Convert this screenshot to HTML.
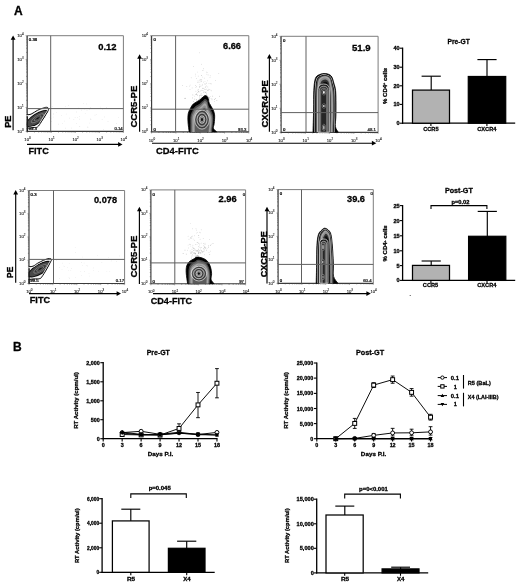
<!DOCTYPE html>
<html lang="en"><head><meta charset="utf-8"><title>Figure</title>
<style>html,body{margin:0;padding:0;background:#fff}svg{display:block}text{font-family:'Liberation Sans', sans-serif}</style>
</head><body>
<svg width="520" height="585" viewBox="0 0 520 585">
<defs><filter id="bl" x="-20%" y="-20%" width="140%" height="140%"><feGaussianBlur stdDeviation="0.7"/></filter><filter id="soft" x="0" y="0" width="520" height="585" filterUnits="userSpaceOnUse"><feGaussianBlur stdDeviation="0.35"/></filter></defs>
<rect width="520" height="585" fill="#fff"/>
<g filter="url(#soft)">
<text x="13.90" y="14.90" font-size="12.0" text-anchor="start" font-weight="bold" fill="#000" stroke="#000" stroke-width="0.3" >A</text>
<text x="13.00" y="350.90" font-size="12.0" text-anchor="start" font-weight="bold" fill="#000" stroke="#000" stroke-width="0.3" >B</text>
<path d="M27.20 35.70 H123.40 V131.40" fill="none" stroke="#7d7d7d" stroke-width="1.0"/>
<path d="M27.20 35.70 V131.40 H123.40" fill="none" stroke="#3a3a3a" stroke-width="1.15"/>
<text x="23.60" y="132.60" font-size="4.2" text-anchor="end" fill="#1a1a1a" stroke="#1a1a1a" stroke-width="0.1" font-weight="normal">10<tspan dy="-1.8" font-size="3.0">0</tspan></text>
<text x="27.50" y="141.10" font-size="4.2" text-anchor="middle" fill="#1a1a1a" stroke="#1a1a1a" stroke-width="0.1" font-weight="normal">10<tspan dy="-1.8" font-size="3.0">0</tspan></text>
<text x="23.60" y="108.68" font-size="4.2" text-anchor="end" fill="#1a1a1a" stroke="#1a1a1a" stroke-width="0.1" font-weight="normal">10<tspan dy="-1.8" font-size="3.0">1</tspan></text>
<text x="51.55" y="141.10" font-size="4.2" text-anchor="middle" fill="#1a1a1a" stroke="#1a1a1a" stroke-width="0.1" font-weight="normal">10<tspan dy="-1.8" font-size="3.0">1</tspan></text>
<text x="23.60" y="84.75" font-size="4.2" text-anchor="end" fill="#1a1a1a" stroke="#1a1a1a" stroke-width="0.1" font-weight="normal">10<tspan dy="-1.8" font-size="3.0">2</tspan></text>
<text x="75.60" y="141.10" font-size="4.2" text-anchor="middle" fill="#1a1a1a" stroke="#1a1a1a" stroke-width="0.1" font-weight="normal">10<tspan dy="-1.8" font-size="3.0">2</tspan></text>
<text x="23.60" y="60.83" font-size="4.2" text-anchor="end" fill="#1a1a1a" stroke="#1a1a1a" stroke-width="0.1" font-weight="normal">10<tspan dy="-1.8" font-size="3.0">3</tspan></text>
<text x="99.65" y="141.10" font-size="4.2" text-anchor="middle" fill="#1a1a1a" stroke="#1a1a1a" stroke-width="0.1" font-weight="normal">10<tspan dy="-1.8" font-size="3.0">3</tspan></text>
<text x="23.60" y="36.90" font-size="4.2" text-anchor="end" fill="#1a1a1a" stroke="#1a1a1a" stroke-width="0.1" font-weight="normal">10<tspan dy="-1.8" font-size="3.0">4</tspan></text>
<text x="123.70" y="141.10" font-size="4.2" text-anchor="middle" fill="#1a1a1a" stroke="#1a1a1a" stroke-width="0.1" font-weight="normal">10<tspan dy="-1.8" font-size="3.0">4</tspan></text>
<line x1="26.10" y1="124.20" x2="27.20" y2="124.20" stroke="#444" stroke-width="0.5" />
<line x1="34.44" y1="131.40" x2="34.44" y2="132.50" stroke="#444" stroke-width="0.5" />
<line x1="26.10" y1="119.98" x2="27.20" y2="119.98" stroke="#444" stroke-width="0.5" />
<line x1="38.67" y1="131.40" x2="38.67" y2="132.50" stroke="#444" stroke-width="0.5" />
<line x1="26.10" y1="117.00" x2="27.20" y2="117.00" stroke="#444" stroke-width="0.5" />
<line x1="41.68" y1="131.40" x2="41.68" y2="132.50" stroke="#444" stroke-width="0.5" />
<line x1="26.10" y1="114.68" x2="27.20" y2="114.68" stroke="#444" stroke-width="0.5" />
<line x1="44.01" y1="131.40" x2="44.01" y2="132.50" stroke="#444" stroke-width="0.5" />
<line x1="26.10" y1="112.78" x2="27.20" y2="112.78" stroke="#444" stroke-width="0.5" />
<line x1="45.91" y1="131.40" x2="45.91" y2="132.50" stroke="#444" stroke-width="0.5" />
<line x1="26.10" y1="111.18" x2="27.20" y2="111.18" stroke="#444" stroke-width="0.5" />
<line x1="47.52" y1="131.40" x2="47.52" y2="132.50" stroke="#444" stroke-width="0.5" />
<line x1="26.10" y1="109.79" x2="27.20" y2="109.79" stroke="#444" stroke-width="0.5" />
<line x1="48.92" y1="131.40" x2="48.92" y2="132.50" stroke="#444" stroke-width="0.5" />
<line x1="26.10" y1="108.57" x2="27.20" y2="108.57" stroke="#444" stroke-width="0.5" />
<line x1="50.15" y1="131.40" x2="50.15" y2="132.50" stroke="#444" stroke-width="0.5" />
<line x1="26.10" y1="100.27" x2="27.20" y2="100.27" stroke="#444" stroke-width="0.5" />
<line x1="58.49" y1="131.40" x2="58.49" y2="132.50" stroke="#444" stroke-width="0.5" />
<line x1="26.10" y1="96.06" x2="27.20" y2="96.06" stroke="#444" stroke-width="0.5" />
<line x1="62.72" y1="131.40" x2="62.72" y2="132.50" stroke="#444" stroke-width="0.5" />
<line x1="26.10" y1="93.07" x2="27.20" y2="93.07" stroke="#444" stroke-width="0.5" />
<line x1="65.73" y1="131.40" x2="65.73" y2="132.50" stroke="#444" stroke-width="0.5" />
<line x1="26.10" y1="90.75" x2="27.20" y2="90.75" stroke="#444" stroke-width="0.5" />
<line x1="68.06" y1="131.40" x2="68.06" y2="132.50" stroke="#444" stroke-width="0.5" />
<line x1="26.10" y1="88.86" x2="27.20" y2="88.86" stroke="#444" stroke-width="0.5" />
<line x1="69.96" y1="131.40" x2="69.96" y2="132.50" stroke="#444" stroke-width="0.5" />
<line x1="26.10" y1="87.26" x2="27.20" y2="87.26" stroke="#444" stroke-width="0.5" />
<line x1="71.57" y1="131.40" x2="71.57" y2="132.50" stroke="#444" stroke-width="0.5" />
<line x1="26.10" y1="85.87" x2="27.20" y2="85.87" stroke="#444" stroke-width="0.5" />
<line x1="72.97" y1="131.40" x2="72.97" y2="132.50" stroke="#444" stroke-width="0.5" />
<line x1="26.10" y1="84.64" x2="27.20" y2="84.64" stroke="#444" stroke-width="0.5" />
<line x1="74.20" y1="131.40" x2="74.20" y2="132.50" stroke="#444" stroke-width="0.5" />
<line x1="26.10" y1="76.35" x2="27.20" y2="76.35" stroke="#444" stroke-width="0.5" />
<line x1="82.54" y1="131.40" x2="82.54" y2="132.50" stroke="#444" stroke-width="0.5" />
<line x1="26.10" y1="72.13" x2="27.20" y2="72.13" stroke="#444" stroke-width="0.5" />
<line x1="86.77" y1="131.40" x2="86.77" y2="132.50" stroke="#444" stroke-width="0.5" />
<line x1="26.10" y1="69.15" x2="27.20" y2="69.15" stroke="#444" stroke-width="0.5" />
<line x1="89.78" y1="131.40" x2="89.78" y2="132.50" stroke="#444" stroke-width="0.5" />
<line x1="26.10" y1="66.83" x2="27.20" y2="66.83" stroke="#444" stroke-width="0.5" />
<line x1="92.11" y1="131.40" x2="92.11" y2="132.50" stroke="#444" stroke-width="0.5" />
<line x1="26.10" y1="64.93" x2="27.20" y2="64.93" stroke="#444" stroke-width="0.5" />
<line x1="94.01" y1="131.40" x2="94.01" y2="132.50" stroke="#444" stroke-width="0.5" />
<line x1="26.10" y1="63.33" x2="27.20" y2="63.33" stroke="#444" stroke-width="0.5" />
<line x1="95.62" y1="131.40" x2="95.62" y2="132.50" stroke="#444" stroke-width="0.5" />
<line x1="26.10" y1="61.94" x2="27.20" y2="61.94" stroke="#444" stroke-width="0.5" />
<line x1="97.02" y1="131.40" x2="97.02" y2="132.50" stroke="#444" stroke-width="0.5" />
<line x1="26.10" y1="60.72" x2="27.20" y2="60.72" stroke="#444" stroke-width="0.5" />
<line x1="98.25" y1="131.40" x2="98.25" y2="132.50" stroke="#444" stroke-width="0.5" />
<line x1="26.10" y1="52.42" x2="27.20" y2="52.42" stroke="#444" stroke-width="0.5" />
<line x1="106.59" y1="131.40" x2="106.59" y2="132.50" stroke="#444" stroke-width="0.5" />
<line x1="26.10" y1="48.21" x2="27.20" y2="48.21" stroke="#444" stroke-width="0.5" />
<line x1="110.82" y1="131.40" x2="110.82" y2="132.50" stroke="#444" stroke-width="0.5" />
<line x1="26.10" y1="45.22" x2="27.20" y2="45.22" stroke="#444" stroke-width="0.5" />
<line x1="113.83" y1="131.40" x2="113.83" y2="132.50" stroke="#444" stroke-width="0.5" />
<line x1="26.10" y1="42.90" x2="27.20" y2="42.90" stroke="#444" stroke-width="0.5" />
<line x1="116.16" y1="131.40" x2="116.16" y2="132.50" stroke="#444" stroke-width="0.5" />
<line x1="26.10" y1="41.01" x2="27.20" y2="41.01" stroke="#444" stroke-width="0.5" />
<line x1="118.06" y1="131.40" x2="118.06" y2="132.50" stroke="#444" stroke-width="0.5" />
<line x1="26.10" y1="39.41" x2="27.20" y2="39.41" stroke="#444" stroke-width="0.5" />
<line x1="119.67" y1="131.40" x2="119.67" y2="132.50" stroke="#444" stroke-width="0.5" />
<line x1="26.10" y1="38.02" x2="27.20" y2="38.02" stroke="#444" stroke-width="0.5" />
<line x1="121.07" y1="131.40" x2="121.07" y2="132.50" stroke="#444" stroke-width="0.5" />
<line x1="26.10" y1="36.79" x2="27.20" y2="36.79" stroke="#444" stroke-width="0.5" />
<line x1="122.30" y1="131.40" x2="122.30" y2="132.50" stroke="#444" stroke-width="0.5" />
<line x1="25.60" y1="131.40" x2="27.20" y2="131.40" stroke="#555" stroke-width="0.5" />
<line x1="27.20" y1="131.40" x2="27.20" y2="133.00" stroke="#555" stroke-width="0.5" />
<line x1="25.60" y1="107.48" x2="27.20" y2="107.48" stroke="#555" stroke-width="0.5" />
<line x1="51.25" y1="131.40" x2="51.25" y2="133.00" stroke="#555" stroke-width="0.5" />
<line x1="25.60" y1="83.55" x2="27.20" y2="83.55" stroke="#555" stroke-width="0.5" />
<line x1="75.30" y1="131.40" x2="75.30" y2="133.00" stroke="#555" stroke-width="0.5" />
<line x1="25.60" y1="59.62" x2="27.20" y2="59.62" stroke="#555" stroke-width="0.5" />
<line x1="99.35" y1="131.40" x2="99.35" y2="133.00" stroke="#555" stroke-width="0.5" />
<line x1="25.60" y1="35.70" x2="27.20" y2="35.70" stroke="#555" stroke-width="0.5" />
<line x1="123.40" y1="131.40" x2="123.40" y2="133.00" stroke="#555" stroke-width="0.5" />
<line x1="13.10" y1="37.90" x2="13.10" y2="130.20" stroke="#000" stroke-width="1.15" />
<path d="M13.10 35.40 L10.70 39.80 L15.50 39.80 Z" fill="#000"/>
<line x1="27.00" y1="144.40" x2="120.00" y2="144.40" stroke="#000" stroke-width="1.15" />
<path d="M122.50 144.40 L118.10 142.00 L118.10 146.80 Z" fill="#000"/>
<text x="11.50" y="127.80" font-size="9.8" text-anchor="start" font-weight="bold" fill="#000" textLength="12.20" lengthAdjust="spacingAndGlyphs" transform="rotate(-90 11.50 127.80)" stroke="#000" stroke-width="0.3" >PE</text>
<text x="28.50" y="153.50" font-size="9.9" text-anchor="start" font-weight="bold" fill="#000" textLength="20.30" lengthAdjust="spacingAndGlyphs" stroke="#000" stroke-width="0.3" >FITC</text>
<text x="98.20" y="49.80" font-size="9.7" text-anchor="start" font-weight="bold" fill="#000" textLength="18.30" lengthAdjust="spacingAndGlyphs" stroke="#000" stroke-width="0.3" >0.12</text>
<text x="28.80" y="41.20" font-size="4.3" text-anchor="start" font-weight="normal" fill="#000" stroke="#000" stroke-width="0.24">0.38</text>
<text x="28.60" y="130.20" font-size="4.3" text-anchor="start" font-weight="normal" fill="#000" stroke="#000" stroke-width="0.24">99.3</text>
<text x="114.40" y="130.00" font-size="4.3" text-anchor="start" font-weight="normal" fill="#111" stroke="#111" stroke-width="0.22">0.14</text>
<g fill="#c8c8c8"><circle cx="103.3" cy="129.6" r="0.32"/><circle cx="76.5" cy="111.9" r="0.32"/><circle cx="51.0" cy="118.3" r="0.32"/><circle cx="52.5" cy="106.5" r="0.32"/><circle cx="79.4" cy="119.1" r="0.32"/><circle cx="87.0" cy="110.7" r="0.32"/><circle cx="75.1" cy="117.5" r="0.32"/><circle cx="41.9" cy="122.3" r="0.32"/><circle cx="79.5" cy="116.8" r="0.32"/><circle cx="102.1" cy="119.6" r="0.32"/><circle cx="95.0" cy="115.1" r="0.32"/><circle cx="79.8" cy="126.2" r="0.32"/><circle cx="90.3" cy="119.0" r="0.32"/><circle cx="51.2" cy="121.6" r="0.32"/><circle cx="76.7" cy="123.8" r="0.32"/><circle cx="79.8" cy="126.7" r="0.32"/><circle cx="73.9" cy="119.6" r="0.32"/><circle cx="89.7" cy="109.3" r="0.32"/><circle cx="66.2" cy="114.0" r="0.32"/><circle cx="118.6" cy="117.3" r="0.32"/><circle cx="89.3" cy="123.0" r="0.32"/><circle cx="68.8" cy="105.6" r="0.32"/><circle cx="96.2" cy="114.7" r="0.32"/><circle cx="90.8" cy="107.6" r="0.32"/><circle cx="65.4" cy="128.1" r="0.32"/><circle cx="106.5" cy="107.6" r="0.32"/><circle cx="45.7" cy="117.6" r="0.32"/><circle cx="91.0" cy="119.3" r="0.32"/><circle cx="81.7" cy="110.1" r="0.32"/><circle cx="87.9" cy="126.9" r="0.32"/><circle cx="65.4" cy="106.5" r="0.32"/><circle cx="58.3" cy="124.1" r="0.32"/><circle cx="36.9" cy="117.3" r="0.32"/><circle cx="53.2" cy="117.0" r="0.32"/><circle cx="69.6" cy="118.1" r="0.32"/><circle cx="108.0" cy="121.4" r="0.32"/><circle cx="104.3" cy="116.9" r="0.32"/><circle cx="64.4" cy="121.0" r="0.32"/><circle cx="78.5" cy="108.1" r="0.32"/><circle cx="85.2" cy="113.5" r="0.32"/><circle cx="53.5" cy="113.8" r="0.32"/><circle cx="71.6" cy="128.0" r="0.32"/><circle cx="77.3" cy="117.8" r="0.32"/><circle cx="83.6" cy="103.5" r="0.32"/><circle cx="102.3" cy="109.4" r="0.32"/><circle cx="84.7" cy="109.0" r="0.32"/><circle cx="53.5" cy="114.8" r="0.32"/><circle cx="116.7" cy="123.6" r="0.32"/><circle cx="61.7" cy="115.7" r="0.32"/><circle cx="49.7" cy="117.7" r="0.32"/><circle cx="62.4" cy="123.8" r="0.32"/><circle cx="45.1" cy="115.3" r="0.32"/><circle cx="56.5" cy="112.3" r="0.32"/><circle cx="90.6" cy="119.0" r="0.32"/><circle cx="87.9" cy="127.5" r="0.32"/><circle cx="100.3" cy="107.0" r="0.32"/><circle cx="86.8" cy="103.9" r="0.32"/></g>
<clipPath id="ci1"><path d="M23.40 116.20 C24.67 114.02 28.65 115.18 31.00 114.20 C33.35 113.22 35.38 111.35 37.50 110.30 C39.62 109.25 42.18 108.40 43.70 107.90 C45.22 107.40 45.82 107.25 46.60 107.30 C47.38 107.35 48.13 107.65 48.40 108.20 C48.67 108.75 48.77 109.30 48.20 110.60 C47.63 111.90 46.15 114.13 45.00 116.00 C43.85 117.87 42.53 119.98 41.30 121.80 C40.07 123.62 38.98 125.95 37.60 126.90 C36.22 127.85 35.37 127.43 33.00 127.50 C30.63 127.57 25.00 129.18 23.40 127.30 C21.80 125.42 22.13 118.38 23.40 116.20 Z"/></clipPath>
<clipPath id="cx1"><rect x="26.80" y="91.40" width="40" height="42"/></clipPath>
<g clip-path="url(#cx1)"><g clip-path="url(#ci1)"><path d="M23.40 116.20 C24.67 114.02 28.65 115.18 31.00 114.20 C33.35 113.22 35.38 111.35 37.50 110.30 C39.62 109.25 42.18 108.40 43.70 107.90 C45.22 107.40 45.82 107.25 46.60 107.30 C47.38 107.35 48.13 107.65 48.40 108.20 C48.67 108.75 48.77 109.30 48.20 110.60 C47.63 111.90 46.15 114.13 45.00 116.00 C43.85 117.87 42.53 119.98 41.30 121.80 C40.07 123.62 38.98 125.95 37.60 126.90 C36.22 127.85 35.37 127.43 33.00 127.50 C30.63 127.57 25.00 129.18 23.40 127.30 C21.80 125.42 22.13 118.38 23.40 116.20 Z" fill="#f6f6f6"/><g transform="rotate(-33 37.6 118.3)"><ellipse cx="37.0" cy="118.3" rx="13.6" ry="5.3" fill="#0a0a0a"/><ellipse cx="37.0" cy="118.3" rx="12.2" ry="4.2" fill="#4a4a4a"/></g><path d="M23.40 116.20 C24.67 114.02 28.65 115.18 31.00 114.20 C33.35 113.22 35.38 111.35 37.50 110.30 C39.62 109.25 42.18 108.40 43.70 107.90 C45.22 107.40 45.82 107.25 46.60 107.30 C47.38 107.35 48.13 107.65 48.40 108.20 C48.67 108.75 48.77 109.30 48.20 110.60 C47.63 111.90 46.15 114.13 45.00 116.00 C43.85 117.87 42.53 119.98 41.30 121.80 C40.07 123.62 38.98 125.95 37.60 126.90 C36.22 127.85 35.37 127.43 33.00 127.50 C30.63 127.57 25.00 129.18 23.40 127.30 C21.80 125.42 22.13 118.38 23.40 116.20 Z" fill="none" stroke="#f6f6f6" stroke-width="2.3" stroke-linejoin="round"/></g><path d="M23.40 116.20 C24.67 114.02 28.65 115.18 31.00 114.20 C33.35 113.22 35.38 111.35 37.50 110.30 C39.62 109.25 42.18 108.40 43.70 107.90 C45.22 107.40 45.82 107.25 46.60 107.30 C47.38 107.35 48.13 107.65 48.40 108.20 C48.67 108.75 48.77 109.30 48.20 110.60 C47.63 111.90 46.15 114.13 45.00 116.00 C43.85 117.87 42.53 119.98 41.30 121.80 C40.07 123.62 38.98 125.95 37.60 126.90 C36.22 127.85 35.37 127.43 33.00 127.50 C30.63 127.57 25.00 129.18 23.40 127.30 C21.80 125.42 22.13 118.38 23.40 116.20 Z" fill="none" stroke="#000" stroke-width="0.95" stroke-linejoin="round"/><g transform="rotate(-33 37.6 118.3)" fill="none"><ellipse cx="37.6" cy="118.3" rx="7.4" ry="2.3" stroke="#c8c8c8" stroke-width="0.35"/><ellipse cx="37.6" cy="118.3" rx="5.6" ry="1.7" stroke="#1a1a1a" stroke-width="0.4"/><ellipse cx="37.6" cy="118.3" rx="4.2" ry="1.25" stroke="#b8b8b8" stroke-width="0.35"/><ellipse cx="37.6" cy="118.3" rx="2.8" ry="0.85" stroke="#222" stroke-width="0.4"/><ellipse cx="37.6" cy="118.3" rx="1.5" ry="0.5" fill="#000"/></g></g>
<rect x="26.70" y="116.20" width="1.3" height="15.20" fill="#1c1c1c"/>
<line x1="50.70" y1="35.70" x2="50.70" y2="131.40" stroke="#606060" stroke-width="1.0" />
<line x1="27.20" y1="108.60" x2="123.40" y2="108.60" stroke="#606060" stroke-width="1.0" />
<path d="M151.60 35.70 H248.80 V131.90" fill="none" stroke="#7d7d7d" stroke-width="1.0"/>
<path d="M151.60 35.70 V131.90 H248.80" fill="none" stroke="#3a3a3a" stroke-width="1.15"/>
<text x="148.00" y="133.10" font-size="4.2" text-anchor="end" fill="#1a1a1a" stroke="#1a1a1a" stroke-width="0.1" font-weight="normal">10<tspan dy="-1.8" font-size="3.0">0</tspan></text>
<text x="151.90" y="141.60" font-size="4.2" text-anchor="middle" fill="#1a1a1a" stroke="#1a1a1a" stroke-width="0.1" font-weight="normal">10<tspan dy="-1.8" font-size="3.0">0</tspan></text>
<text x="148.00" y="109.05" font-size="4.2" text-anchor="end" fill="#1a1a1a" stroke="#1a1a1a" stroke-width="0.1" font-weight="normal">10<tspan dy="-1.8" font-size="3.0">1</tspan></text>
<text x="176.20" y="141.60" font-size="4.2" text-anchor="middle" fill="#1a1a1a" stroke="#1a1a1a" stroke-width="0.1" font-weight="normal">10<tspan dy="-1.8" font-size="3.0">1</tspan></text>
<text x="148.00" y="85.00" font-size="4.2" text-anchor="end" fill="#1a1a1a" stroke="#1a1a1a" stroke-width="0.1" font-weight="normal">10<tspan dy="-1.8" font-size="3.0">2</tspan></text>
<text x="200.50" y="141.60" font-size="4.2" text-anchor="middle" fill="#1a1a1a" stroke="#1a1a1a" stroke-width="0.1" font-weight="normal">10<tspan dy="-1.8" font-size="3.0">2</tspan></text>
<text x="148.00" y="60.95" font-size="4.2" text-anchor="end" fill="#1a1a1a" stroke="#1a1a1a" stroke-width="0.1" font-weight="normal">10<tspan dy="-1.8" font-size="3.0">3</tspan></text>
<text x="224.80" y="141.60" font-size="4.2" text-anchor="middle" fill="#1a1a1a" stroke="#1a1a1a" stroke-width="0.1" font-weight="normal">10<tspan dy="-1.8" font-size="3.0">3</tspan></text>
<text x="148.00" y="36.90" font-size="4.2" text-anchor="end" fill="#1a1a1a" stroke="#1a1a1a" stroke-width="0.1" font-weight="normal">10<tspan dy="-1.8" font-size="3.0">4</tspan></text>
<text x="249.10" y="141.60" font-size="4.2" text-anchor="middle" fill="#1a1a1a" stroke="#1a1a1a" stroke-width="0.1" font-weight="normal">10<tspan dy="-1.8" font-size="3.0">4</tspan></text>
<line x1="150.50" y1="124.66" x2="151.60" y2="124.66" stroke="#444" stroke-width="0.5" />
<line x1="158.92" y1="131.90" x2="158.92" y2="133.00" stroke="#444" stroke-width="0.5" />
<line x1="150.50" y1="120.43" x2="151.60" y2="120.43" stroke="#444" stroke-width="0.5" />
<line x1="163.19" y1="131.90" x2="163.19" y2="133.00" stroke="#444" stroke-width="0.5" />
<line x1="150.50" y1="117.42" x2="151.60" y2="117.42" stroke="#444" stroke-width="0.5" />
<line x1="166.23" y1="131.90" x2="166.23" y2="133.00" stroke="#444" stroke-width="0.5" />
<line x1="150.50" y1="115.09" x2="151.60" y2="115.09" stroke="#444" stroke-width="0.5" />
<line x1="168.58" y1="131.90" x2="168.58" y2="133.00" stroke="#444" stroke-width="0.5" />
<line x1="150.50" y1="113.19" x2="151.60" y2="113.19" stroke="#444" stroke-width="0.5" />
<line x1="170.51" y1="131.90" x2="170.51" y2="133.00" stroke="#444" stroke-width="0.5" />
<line x1="150.50" y1="111.58" x2="151.60" y2="111.58" stroke="#444" stroke-width="0.5" />
<line x1="172.14" y1="131.90" x2="172.14" y2="133.00" stroke="#444" stroke-width="0.5" />
<line x1="150.50" y1="110.18" x2="151.60" y2="110.18" stroke="#444" stroke-width="0.5" />
<line x1="173.55" y1="131.90" x2="173.55" y2="133.00" stroke="#444" stroke-width="0.5" />
<line x1="150.50" y1="108.95" x2="151.60" y2="108.95" stroke="#444" stroke-width="0.5" />
<line x1="174.79" y1="131.90" x2="174.79" y2="133.00" stroke="#444" stroke-width="0.5" />
<line x1="150.50" y1="100.61" x2="151.60" y2="100.61" stroke="#444" stroke-width="0.5" />
<line x1="183.22" y1="131.90" x2="183.22" y2="133.00" stroke="#444" stroke-width="0.5" />
<line x1="150.50" y1="96.38" x2="151.60" y2="96.38" stroke="#444" stroke-width="0.5" />
<line x1="187.49" y1="131.90" x2="187.49" y2="133.00" stroke="#444" stroke-width="0.5" />
<line x1="150.50" y1="93.37" x2="151.60" y2="93.37" stroke="#444" stroke-width="0.5" />
<line x1="190.53" y1="131.90" x2="190.53" y2="133.00" stroke="#444" stroke-width="0.5" />
<line x1="150.50" y1="91.04" x2="151.60" y2="91.04" stroke="#444" stroke-width="0.5" />
<line x1="192.88" y1="131.90" x2="192.88" y2="133.00" stroke="#444" stroke-width="0.5" />
<line x1="150.50" y1="89.14" x2="151.60" y2="89.14" stroke="#444" stroke-width="0.5" />
<line x1="194.81" y1="131.90" x2="194.81" y2="133.00" stroke="#444" stroke-width="0.5" />
<line x1="150.50" y1="87.53" x2="151.60" y2="87.53" stroke="#444" stroke-width="0.5" />
<line x1="196.44" y1="131.90" x2="196.44" y2="133.00" stroke="#444" stroke-width="0.5" />
<line x1="150.50" y1="86.13" x2="151.60" y2="86.13" stroke="#444" stroke-width="0.5" />
<line x1="197.85" y1="131.90" x2="197.85" y2="133.00" stroke="#444" stroke-width="0.5" />
<line x1="150.50" y1="84.90" x2="151.60" y2="84.90" stroke="#444" stroke-width="0.5" />
<line x1="199.09" y1="131.90" x2="199.09" y2="133.00" stroke="#444" stroke-width="0.5" />
<line x1="150.50" y1="76.56" x2="151.60" y2="76.56" stroke="#444" stroke-width="0.5" />
<line x1="207.52" y1="131.90" x2="207.52" y2="133.00" stroke="#444" stroke-width="0.5" />
<line x1="150.50" y1="72.33" x2="151.60" y2="72.33" stroke="#444" stroke-width="0.5" />
<line x1="211.79" y1="131.90" x2="211.79" y2="133.00" stroke="#444" stroke-width="0.5" />
<line x1="150.50" y1="69.32" x2="151.60" y2="69.32" stroke="#444" stroke-width="0.5" />
<line x1="214.83" y1="131.90" x2="214.83" y2="133.00" stroke="#444" stroke-width="0.5" />
<line x1="150.50" y1="66.99" x2="151.60" y2="66.99" stroke="#444" stroke-width="0.5" />
<line x1="217.18" y1="131.90" x2="217.18" y2="133.00" stroke="#444" stroke-width="0.5" />
<line x1="150.50" y1="65.09" x2="151.60" y2="65.09" stroke="#444" stroke-width="0.5" />
<line x1="219.11" y1="131.90" x2="219.11" y2="133.00" stroke="#444" stroke-width="0.5" />
<line x1="150.50" y1="63.48" x2="151.60" y2="63.48" stroke="#444" stroke-width="0.5" />
<line x1="220.74" y1="131.90" x2="220.74" y2="133.00" stroke="#444" stroke-width="0.5" />
<line x1="150.50" y1="62.08" x2="151.60" y2="62.08" stroke="#444" stroke-width="0.5" />
<line x1="222.15" y1="131.90" x2="222.15" y2="133.00" stroke="#444" stroke-width="0.5" />
<line x1="150.50" y1="60.85" x2="151.60" y2="60.85" stroke="#444" stroke-width="0.5" />
<line x1="223.39" y1="131.90" x2="223.39" y2="133.00" stroke="#444" stroke-width="0.5" />
<line x1="150.50" y1="52.51" x2="151.60" y2="52.51" stroke="#444" stroke-width="0.5" />
<line x1="231.82" y1="131.90" x2="231.82" y2="133.00" stroke="#444" stroke-width="0.5" />
<line x1="150.50" y1="48.28" x2="151.60" y2="48.28" stroke="#444" stroke-width="0.5" />
<line x1="236.09" y1="131.90" x2="236.09" y2="133.00" stroke="#444" stroke-width="0.5" />
<line x1="150.50" y1="45.27" x2="151.60" y2="45.27" stroke="#444" stroke-width="0.5" />
<line x1="239.13" y1="131.90" x2="239.13" y2="133.00" stroke="#444" stroke-width="0.5" />
<line x1="150.50" y1="42.94" x2="151.60" y2="42.94" stroke="#444" stroke-width="0.5" />
<line x1="241.48" y1="131.90" x2="241.48" y2="133.00" stroke="#444" stroke-width="0.5" />
<line x1="150.50" y1="41.04" x2="151.60" y2="41.04" stroke="#444" stroke-width="0.5" />
<line x1="243.41" y1="131.90" x2="243.41" y2="133.00" stroke="#444" stroke-width="0.5" />
<line x1="150.50" y1="39.43" x2="151.60" y2="39.43" stroke="#444" stroke-width="0.5" />
<line x1="245.04" y1="131.90" x2="245.04" y2="133.00" stroke="#444" stroke-width="0.5" />
<line x1="150.50" y1="38.03" x2="151.60" y2="38.03" stroke="#444" stroke-width="0.5" />
<line x1="246.45" y1="131.90" x2="246.45" y2="133.00" stroke="#444" stroke-width="0.5" />
<line x1="150.50" y1="36.80" x2="151.60" y2="36.80" stroke="#444" stroke-width="0.5" />
<line x1="247.69" y1="131.90" x2="247.69" y2="133.00" stroke="#444" stroke-width="0.5" />
<line x1="150.00" y1="131.90" x2="151.60" y2="131.90" stroke="#555" stroke-width="0.5" />
<line x1="151.60" y1="131.90" x2="151.60" y2="133.50" stroke="#555" stroke-width="0.5" />
<line x1="150.00" y1="107.85" x2="151.60" y2="107.85" stroke="#555" stroke-width="0.5" />
<line x1="175.90" y1="131.90" x2="175.90" y2="133.50" stroke="#555" stroke-width="0.5" />
<line x1="150.00" y1="83.80" x2="151.60" y2="83.80" stroke="#555" stroke-width="0.5" />
<line x1="200.20" y1="131.90" x2="200.20" y2="133.50" stroke="#555" stroke-width="0.5" />
<line x1="150.00" y1="59.75" x2="151.60" y2="59.75" stroke="#555" stroke-width="0.5" />
<line x1="224.50" y1="131.90" x2="224.50" y2="133.50" stroke="#555" stroke-width="0.5" />
<line x1="150.00" y1="35.70" x2="151.60" y2="35.70" stroke="#555" stroke-width="0.5" />
<line x1="248.80" y1="131.90" x2="248.80" y2="133.50" stroke="#555" stroke-width="0.5" />
<line x1="139.60" y1="56.80" x2="139.60" y2="131.80" stroke="#000" stroke-width="1.15" />
<path d="M139.60 54.30 L137.20 58.70 L142.00 58.70 Z" fill="#000"/>
<line x1="152.00" y1="143.20" x2="373.80" y2="143.20" stroke="#000" stroke-width="1.15" />
<path d="M376.30 143.20 L371.90 140.80 L371.90 145.60 Z" fill="#000"/>
<text x="137.40" y="127.60" font-size="9.9" text-anchor="start" font-weight="bold" fill="#000" textLength="42.00" lengthAdjust="spacingAndGlyphs" transform="rotate(-90 137.40 127.60)" stroke="#000" stroke-width="0.3" >CCR5-PE</text>
<text x="156.10" y="153.80" font-size="9.9" text-anchor="start" font-weight="bold" fill="#000" textLength="42.60" lengthAdjust="spacingAndGlyphs" stroke="#000" stroke-width="0.3" >CD4-FITC</text>
<text x="223.00" y="49.30" font-size="9.7" text-anchor="start" font-weight="bold" fill="#000" textLength="18.00" lengthAdjust="spacingAndGlyphs" stroke="#000" stroke-width="0.3" >6.66</text>
<text x="153.40" y="40.90" font-size="4.3" text-anchor="start" font-weight="normal" fill="#000" stroke="#000" stroke-width="0.24">0</text>
<text x="153.40" y="130.60" font-size="4.3" text-anchor="start" font-weight="normal" fill="#000" stroke="#000" stroke-width="0.24">0</text>
<text x="238.00" y="130.50" font-size="4.3" text-anchor="start" font-weight="normal" fill="#111" stroke="#111" stroke-width="0.22">93.3</text>
<g fill="#b4b4b4"><circle cx="215.4" cy="80.7" r="0.36"/><circle cx="204.7" cy="89.6" r="0.36"/><circle cx="207.1" cy="72.6" r="0.36"/><circle cx="200.2" cy="79.7" r="0.36"/><circle cx="196.6" cy="78.7" r="0.36"/><circle cx="199.7" cy="84.8" r="0.36"/><circle cx="197.5" cy="92.6" r="0.36"/><circle cx="199.5" cy="52.8" r="0.36"/><circle cx="209.0" cy="83.7" r="0.36"/><circle cx="198.4" cy="91.0" r="0.36"/><circle cx="203.8" cy="88.6" r="0.36"/><circle cx="197.8" cy="90.1" r="0.36"/><circle cx="194.0" cy="103.9" r="0.36"/><circle cx="195.5" cy="85.7" r="0.36"/><circle cx="202.6" cy="90.4" r="0.36"/><circle cx="201.1" cy="93.3" r="0.36"/><circle cx="182.5" cy="85.4" r="0.36"/><circle cx="200.9" cy="81.8" r="0.36"/><circle cx="210.2" cy="75.8" r="0.36"/><circle cx="201.3" cy="64.2" r="0.36"/><circle cx="203.3" cy="68.6" r="0.36"/><circle cx="193.1" cy="112.6" r="0.36"/><circle cx="205.7" cy="86.5" r="0.36"/><circle cx="202.7" cy="70.6" r="0.36"/><circle cx="195.9" cy="91.2" r="0.36"/><circle cx="190.0" cy="89.6" r="0.36"/><circle cx="192.1" cy="87.9" r="0.36"/><circle cx="195.6" cy="106.1" r="0.36"/><circle cx="207.4" cy="80.8" r="0.36"/><circle cx="191.2" cy="77.8" r="0.36"/><circle cx="201.5" cy="75.5" r="0.36"/><circle cx="203.4" cy="97.6" r="0.36"/><circle cx="201.5" cy="81.7" r="0.36"/><circle cx="206.1" cy="83.2" r="0.36"/><circle cx="206.5" cy="83.0" r="0.36"/><circle cx="210.8" cy="83.4" r="0.36"/><circle cx="195.9" cy="87.6" r="0.36"/><circle cx="198.2" cy="76.1" r="0.36"/><circle cx="201.1" cy="94.9" r="0.36"/><circle cx="189.7" cy="86.1" r="0.36"/><circle cx="200.9" cy="85.0" r="0.36"/><circle cx="206.3" cy="72.0" r="0.36"/><circle cx="205.5" cy="84.1" r="0.36"/><circle cx="202.4" cy="84.2" r="0.36"/><circle cx="200.0" cy="80.8" r="0.36"/><circle cx="204.1" cy="110.2" r="0.36"/><circle cx="207.8" cy="96.3" r="0.36"/><circle cx="205.0" cy="81.5" r="0.36"/><circle cx="205.3" cy="110.0" r="0.36"/><circle cx="194.8" cy="96.1" r="0.36"/><circle cx="207.6" cy="90.1" r="0.36"/><circle cx="206.4" cy="102.5" r="0.36"/><circle cx="214.4" cy="101.6" r="0.36"/><circle cx="211.3" cy="90.8" r="0.36"/><circle cx="206.7" cy="89.1" r="0.36"/><circle cx="203.7" cy="82.1" r="0.36"/><circle cx="205.9" cy="103.4" r="0.36"/><circle cx="201.3" cy="90.2" r="0.36"/><circle cx="205.6" cy="87.6" r="0.36"/><circle cx="207.4" cy="90.3" r="0.36"/><circle cx="195.7" cy="76.0" r="0.36"/><circle cx="206.3" cy="94.5" r="0.36"/><circle cx="208.4" cy="90.3" r="0.36"/><circle cx="203.4" cy="70.0" r="0.36"/><circle cx="210.0" cy="77.3" r="0.36"/><circle cx="208.1" cy="74.9" r="0.36"/><circle cx="198.6" cy="89.3" r="0.36"/><circle cx="200.0" cy="79.9" r="0.36"/><circle cx="207.3" cy="95.2" r="0.36"/><circle cx="204.5" cy="83.9" r="0.36"/><circle cx="197.8" cy="82.4" r="0.36"/><circle cx="199.4" cy="87.4" r="0.36"/><circle cx="206.6" cy="85.9" r="0.36"/><circle cx="198.0" cy="80.9" r="0.36"/><circle cx="209.5" cy="89.6" r="0.36"/><circle cx="203.7" cy="90.9" r="0.36"/><circle cx="205.7" cy="89.4" r="0.36"/><circle cx="208.9" cy="96.8" r="0.36"/><circle cx="186.8" cy="86.4" r="0.36"/><circle cx="218.8" cy="73.7" r="0.36"/><circle cx="203.2" cy="99.9" r="0.36"/><circle cx="202.5" cy="102.7" r="0.36"/><circle cx="195.5" cy="74.1" r="0.36"/><circle cx="201.4" cy="79.8" r="0.36"/><circle cx="196.5" cy="94.3" r="0.36"/><circle cx="204.0" cy="88.1" r="0.36"/><circle cx="200.3" cy="90.9" r="0.36"/><circle cx="201.8" cy="79.9" r="0.36"/><circle cx="205.3" cy="92.1" r="0.36"/><circle cx="202.9" cy="95.6" r="0.36"/><circle cx="196.4" cy="86.4" r="0.36"/><circle cx="199.6" cy="102.7" r="0.36"/><circle cx="205.3" cy="111.3" r="0.36"/><circle cx="211.1" cy="83.9" r="0.36"/><circle cx="196.5" cy="93.3" r="0.36"/><circle cx="200.9" cy="86.3" r="0.36"/><circle cx="196.7" cy="94.6" r="0.36"/><circle cx="203.5" cy="92.4" r="0.36"/><circle cx="204.2" cy="78.1" r="0.36"/><circle cx="190.2" cy="85.0" r="0.36"/><circle cx="199.0" cy="82.2" r="0.36"/><circle cx="207.8" cy="86.9" r="0.36"/><circle cx="210.8" cy="90.0" r="0.36"/><circle cx="206.3" cy="93.6" r="0.36"/><circle cx="206.9" cy="74.2" r="0.36"/><circle cx="208.5" cy="89.2" r="0.36"/><circle cx="197.1" cy="94.8" r="0.36"/><circle cx="204.4" cy="102.2" r="0.36"/><circle cx="206.5" cy="92.0" r="0.36"/><circle cx="193.5" cy="106.4" r="0.36"/><circle cx="210.7" cy="96.5" r="0.36"/><circle cx="205.0" cy="101.4" r="0.36"/><circle cx="197.7" cy="95.7" r="0.36"/><circle cx="202.6" cy="77.0" r="0.36"/><circle cx="204.5" cy="91.9" r="0.36"/><circle cx="211.9" cy="98.4" r="0.36"/><circle cx="193.7" cy="66.4" r="0.36"/><circle cx="202.1" cy="85.7" r="0.36"/><circle cx="197.4" cy="72.0" r="0.36"/><circle cx="201.4" cy="75.3" r="0.36"/></g>
<g fill="#909090"><circle cx="192.4" cy="97.9" r="0.38"/><circle cx="200.6" cy="95.1" r="0.38"/><circle cx="209.3" cy="97.3" r="0.38"/><circle cx="200.6" cy="104.2" r="0.38"/><circle cx="199.0" cy="91.9" r="0.38"/><circle cx="192.9" cy="94.9" r="0.38"/><circle cx="207.1" cy="100.4" r="0.38"/><circle cx="210.5" cy="104.4" r="0.38"/><circle cx="214.6" cy="99.7" r="0.38"/><circle cx="212.0" cy="99.8" r="0.38"/><circle cx="198.8" cy="100.5" r="0.38"/><circle cx="203.2" cy="96.4" r="0.38"/><circle cx="216.9" cy="100.3" r="0.38"/><circle cx="199.4" cy="96.9" r="0.38"/><circle cx="219.4" cy="96.2" r="0.38"/><circle cx="208.1" cy="99.7" r="0.38"/><circle cx="206.5" cy="99.6" r="0.38"/><circle cx="199.5" cy="95.3" r="0.38"/><circle cx="201.8" cy="95.8" r="0.38"/><circle cx="208.6" cy="103.5" r="0.38"/><circle cx="196.6" cy="99.4" r="0.38"/><circle cx="195.9" cy="94.4" r="0.38"/><circle cx="201.2" cy="97.7" r="0.38"/><circle cx="199.8" cy="86.6" r="0.38"/><circle cx="212.7" cy="96.1" r="0.38"/><circle cx="198.4" cy="100.0" r="0.38"/><circle cx="198.7" cy="91.4" r="0.38"/><circle cx="206.4" cy="98.9" r="0.38"/><circle cx="197.0" cy="100.6" r="0.38"/><circle cx="205.5" cy="92.6" r="0.38"/><circle cx="215.3" cy="98.3" r="0.38"/><circle cx="194.8" cy="99.1" r="0.38"/><circle cx="203.8" cy="101.2" r="0.38"/><circle cx="193.3" cy="101.4" r="0.38"/><circle cx="209.6" cy="100.0" r="0.38"/><circle cx="207.2" cy="102.6" r="0.38"/><circle cx="208.0" cy="97.7" r="0.38"/><circle cx="196.9" cy="101.7" r="0.38"/><circle cx="209.9" cy="98.4" r="0.38"/><circle cx="204.0" cy="100.1" r="0.38"/><circle cx="185.0" cy="98.5" r="0.38"/><circle cx="185.1" cy="98.2" r="0.38"/><circle cx="210.4" cy="104.9" r="0.38"/><circle cx="199.5" cy="99.0" r="0.38"/><circle cx="202.4" cy="88.2" r="0.38"/></g>
<clipPath id="c2"><path d="M189.20 131.90 C189.00 130.25 188.17 125.02 188.00 122.00 C187.83 118.98 187.77 116.13 188.20 113.80 C188.63 111.47 189.72 109.67 190.60 108.00 C191.48 106.33 192.07 105.07 193.50 103.80 C194.93 102.53 197.53 101.60 199.20 100.40 C200.87 99.20 202.45 97.42 203.50 96.60 C204.55 95.78 204.77 95.35 205.50 95.50 C206.23 95.65 207.27 96.20 207.90 97.50 C208.53 98.80 208.50 101.38 209.30 103.30 C210.10 105.22 211.82 107.08 212.70 109.00 C213.58 110.92 214.35 112.38 214.60 114.80 C214.85 117.22 214.40 121.25 214.20 123.50 C214.00 125.75 213.00 126.90 213.40 128.30 C213.80 129.70 216.07 131.30 216.60 131.90 Z"/></clipPath>
<path d="M189.20 131.90 C189.00 130.25 188.17 125.02 188.00 122.00 C187.83 118.98 187.77 116.13 188.20 113.80 C188.63 111.47 189.72 109.67 190.60 108.00 C191.48 106.33 192.07 105.07 193.50 103.80 C194.93 102.53 197.53 101.60 199.20 100.40 C200.87 99.20 202.45 97.42 203.50 96.60 C204.55 95.78 204.77 95.35 205.50 95.50 C206.23 95.65 207.27 96.20 207.90 97.50 C208.53 98.80 208.50 101.38 209.30 103.30 C210.10 105.22 211.82 107.08 212.70 109.00 C213.58 110.92 214.35 112.38 214.60 114.80 C214.85 117.22 214.40 121.25 214.20 123.50 C214.00 125.75 213.00 126.90 213.40 128.30 C213.80 129.70 216.07 131.30 216.60 131.90 Z" fill="#000" stroke="#000" stroke-width="0.8" stroke-linejoin="round"/>
<g clip-path="url(#c2)"><g filter="url(#bl)"><path d="M190.35 131.90 C190.35 130.47 190.32 125.98 190.35 123.29 C190.38 120.60 190.15 117.89 190.52 115.75 C190.90 113.60 191.83 111.95 192.59 110.41 C193.35 108.88 193.85 107.71 195.08 106.55 C196.31 105.38 198.55 104.52 199.98 103.42 C201.42 102.32 202.78 100.68 203.68 99.92 C204.58 99.17 204.77 98.77 205.40 98.91 C206.03 99.05 206.92 99.56 207.47 100.75 C208.01 101.95 207.98 104.32 208.67 106.09 C209.36 107.85 210.83 109.57 211.59 111.33 C212.35 113.10 213.01 114.44 213.23 116.67 C213.44 118.89 213.06 122.60 212.88 124.67 C212.71 126.74 212.31 127.88 212.20 129.09 C212.08 130.29 212.20 131.43 212.20 131.90 Z" fill="#484848"/><path d="M191.50 131.90 C191.50 130.56 191.47 126.40 191.50 123.89 C191.52 121.38 191.31 118.84 191.65 116.83 C191.99 114.83 192.84 113.28 193.52 111.85 C194.21 110.41 194.67 109.32 195.79 108.23 C196.90 107.14 198.93 106.34 200.23 105.31 C201.53 104.28 202.77 102.74 203.59 102.04 C204.40 101.34 204.57 100.97 205.15 101.10 C205.72 101.23 206.52 101.70 207.02 102.82 C207.51 103.93 207.49 106.16 208.11 107.80 C208.73 109.45 210.07 111.06 210.76 112.71 C211.45 114.35 212.05 115.62 212.24 117.69 C212.44 119.77 212.09 123.24 211.93 125.18 C211.78 127.11 211.41 128.18 211.31 129.30 C211.20 130.42 211.31 131.47 211.31 131.90 Z" fill="#7c7c7c"/><path d="M192.64 131.90 C192.64 130.66 192.62 126.81 192.64 124.48 C192.66 122.15 192.48 119.79 192.78 117.92 C193.08 116.05 193.84 114.61 194.46 113.28 C195.08 111.95 195.49 110.93 196.49 109.92 C197.49 108.91 199.31 108.16 200.48 107.20 C201.65 106.24 202.75 104.81 203.49 104.16 C204.23 103.51 204.38 103.16 204.89 103.28 C205.40 103.40 206.13 103.84 206.57 104.88 C207.01 105.92 206.99 107.99 207.55 109.52 C208.11 111.05 209.31 112.55 209.93 114.08 C210.55 115.61 211.08 116.79 211.26 118.72 C211.44 120.65 211.12 123.88 210.98 125.68 C210.84 127.48 210.51 128.48 210.42 129.52 C210.33 130.56 210.42 131.50 210.42 131.90 Z" fill="#a8a8a8"/><path d="M193.78 131.90 C193.78 130.76 193.76 127.22 193.78 125.07 C193.80 122.92 193.64 120.73 193.91 119.01 C194.18 117.28 194.85 115.95 195.40 114.71 C195.94 113.48 196.31 112.54 197.19 111.61 C198.08 110.67 199.69 109.98 200.73 109.09 C201.76 108.20 202.74 106.88 203.39 106.28 C204.05 105.67 204.18 105.35 204.63 105.46 C205.09 105.58 205.73 105.98 206.12 106.94 C206.51 107.91 206.49 109.82 206.99 111.24 C207.49 112.65 208.55 114.04 209.10 115.45 C209.65 116.87 210.12 117.96 210.28 119.75 C210.43 121.53 210.15 124.52 210.03 126.18 C209.90 127.85 209.61 128.78 209.53 129.74 C209.45 130.69 209.53 131.54 209.53 131.90 Z" fill="#8e8e8e"/><path d="M194.93 131.90 C194.93 130.86 194.91 127.64 194.93 125.67 C194.95 123.70 194.80 121.68 195.04 120.09 C195.27 118.51 195.85 117.28 196.33 116.15 C196.81 115.01 197.12 114.15 197.90 113.29 C198.67 112.43 200.08 111.80 200.98 110.98 C201.88 110.16 202.73 108.95 203.30 108.40 C203.87 107.84 203.98 107.55 204.38 107.65 C204.77 107.75 205.33 108.12 205.67 109.01 C206.02 109.89 206.00 111.65 206.43 112.95 C206.86 114.26 207.79 115.52 208.27 116.83 C208.74 118.13 209.16 119.13 209.29 120.77 C209.43 122.42 209.18 125.16 209.08 126.69 C208.97 128.22 208.72 129.08 208.64 129.95 C208.57 130.82 208.64 131.58 208.64 131.90 Z" fill="#5c5c5c"/></g></g>
<g fill="none"><ellipse cx="202.0" cy="119.6" rx="7.31" ry="9.57" stroke="#f4f4f4" stroke-width="0.6"/><ellipse cx="202.0" cy="119.6" rx="6.15" ry="8.11" stroke="#1e1e1e" stroke-width="0.6"/><ellipse cx="202.0" cy="119.6" rx="4.98" ry="6.66" stroke="#f4f4f4" stroke-width="0.6"/><ellipse cx="202.0" cy="119.6" rx="3.82" ry="5.20" stroke="#1e1e1e" stroke-width="0.6"/><ellipse cx="202.0" cy="119.6" rx="2.65" ry="3.74" stroke="#f4f4f4" stroke-width="0.6"/><ellipse cx="202.0" cy="119.6" rx="1.48" ry="2.29" fill="#111" stroke="#eee" stroke-width="0.5"/></g>
<line x1="175.60" y1="35.70" x2="175.60" y2="131.90" stroke="#606060" stroke-width="1.0" />
<line x1="151.60" y1="109.20" x2="248.80" y2="109.20" stroke="#606060" stroke-width="1.0" />
<path d="M281.10 36.30 H378.10 V132.30" fill="none" stroke="#7d7d7d" stroke-width="1.0"/>
<path d="M281.10 36.30 V132.30 H378.10" fill="none" stroke="#3a3a3a" stroke-width="1.15"/>
<text x="277.50" y="133.50" font-size="4.2" text-anchor="end" fill="#1a1a1a" stroke="#1a1a1a" stroke-width="0.1" font-weight="normal">10<tspan dy="-1.8" font-size="3.0">0</tspan></text>
<text x="281.40" y="142.00" font-size="4.2" text-anchor="middle" fill="#1a1a1a" stroke="#1a1a1a" stroke-width="0.1" font-weight="normal">10<tspan dy="-1.8" font-size="3.0">0</tspan></text>
<text x="277.50" y="109.50" font-size="4.2" text-anchor="end" fill="#1a1a1a" stroke="#1a1a1a" stroke-width="0.1" font-weight="normal">10<tspan dy="-1.8" font-size="3.0">1</tspan></text>
<text x="305.65" y="142.00" font-size="4.2" text-anchor="middle" fill="#1a1a1a" stroke="#1a1a1a" stroke-width="0.1" font-weight="normal">10<tspan dy="-1.8" font-size="3.0">1</tspan></text>
<text x="277.50" y="85.50" font-size="4.2" text-anchor="end" fill="#1a1a1a" stroke="#1a1a1a" stroke-width="0.1" font-weight="normal">10<tspan dy="-1.8" font-size="3.0">2</tspan></text>
<text x="329.90" y="142.00" font-size="4.2" text-anchor="middle" fill="#1a1a1a" stroke="#1a1a1a" stroke-width="0.1" font-weight="normal">10<tspan dy="-1.8" font-size="3.0">2</tspan></text>
<text x="277.50" y="61.50" font-size="4.2" text-anchor="end" fill="#1a1a1a" stroke="#1a1a1a" stroke-width="0.1" font-weight="normal">10<tspan dy="-1.8" font-size="3.0">3</tspan></text>
<text x="354.15" y="142.00" font-size="4.2" text-anchor="middle" fill="#1a1a1a" stroke="#1a1a1a" stroke-width="0.1" font-weight="normal">10<tspan dy="-1.8" font-size="3.0">3</tspan></text>
<text x="277.50" y="37.50" font-size="4.2" text-anchor="end" fill="#1a1a1a" stroke="#1a1a1a" stroke-width="0.1" font-weight="normal">10<tspan dy="-1.8" font-size="3.0">4</tspan></text>
<text x="378.40" y="142.00" font-size="4.2" text-anchor="middle" fill="#1a1a1a" stroke="#1a1a1a" stroke-width="0.1" font-weight="normal">10<tspan dy="-1.8" font-size="3.0">4</tspan></text>
<line x1="280.00" y1="125.08" x2="281.10" y2="125.08" stroke="#444" stroke-width="0.5" />
<line x1="288.40" y1="132.30" x2="288.40" y2="133.40" stroke="#444" stroke-width="0.5" />
<line x1="280.00" y1="120.85" x2="281.10" y2="120.85" stroke="#444" stroke-width="0.5" />
<line x1="292.67" y1="132.30" x2="292.67" y2="133.40" stroke="#444" stroke-width="0.5" />
<line x1="280.00" y1="117.85" x2="281.10" y2="117.85" stroke="#444" stroke-width="0.5" />
<line x1="295.70" y1="132.30" x2="295.70" y2="133.40" stroke="#444" stroke-width="0.5" />
<line x1="280.00" y1="115.52" x2="281.10" y2="115.52" stroke="#444" stroke-width="0.5" />
<line x1="298.05" y1="132.30" x2="298.05" y2="133.40" stroke="#444" stroke-width="0.5" />
<line x1="280.00" y1="113.62" x2="281.10" y2="113.62" stroke="#444" stroke-width="0.5" />
<line x1="299.97" y1="132.30" x2="299.97" y2="133.40" stroke="#444" stroke-width="0.5" />
<line x1="280.00" y1="112.02" x2="281.10" y2="112.02" stroke="#444" stroke-width="0.5" />
<line x1="301.59" y1="132.30" x2="301.59" y2="133.40" stroke="#444" stroke-width="0.5" />
<line x1="280.00" y1="110.63" x2="281.10" y2="110.63" stroke="#444" stroke-width="0.5" />
<line x1="303.00" y1="132.30" x2="303.00" y2="133.40" stroke="#444" stroke-width="0.5" />
<line x1="280.00" y1="109.40" x2="281.10" y2="109.40" stroke="#444" stroke-width="0.5" />
<line x1="304.24" y1="132.30" x2="304.24" y2="133.40" stroke="#444" stroke-width="0.5" />
<line x1="280.00" y1="101.08" x2="281.10" y2="101.08" stroke="#444" stroke-width="0.5" />
<line x1="312.65" y1="132.30" x2="312.65" y2="133.40" stroke="#444" stroke-width="0.5" />
<line x1="280.00" y1="96.85" x2="281.10" y2="96.85" stroke="#444" stroke-width="0.5" />
<line x1="316.92" y1="132.30" x2="316.92" y2="133.40" stroke="#444" stroke-width="0.5" />
<line x1="280.00" y1="93.85" x2="281.10" y2="93.85" stroke="#444" stroke-width="0.5" />
<line x1="319.95" y1="132.30" x2="319.95" y2="133.40" stroke="#444" stroke-width="0.5" />
<line x1="280.00" y1="91.52" x2="281.10" y2="91.52" stroke="#444" stroke-width="0.5" />
<line x1="322.30" y1="132.30" x2="322.30" y2="133.40" stroke="#444" stroke-width="0.5" />
<line x1="280.00" y1="89.62" x2="281.10" y2="89.62" stroke="#444" stroke-width="0.5" />
<line x1="324.22" y1="132.30" x2="324.22" y2="133.40" stroke="#444" stroke-width="0.5" />
<line x1="280.00" y1="88.02" x2="281.10" y2="88.02" stroke="#444" stroke-width="0.5" />
<line x1="325.84" y1="132.30" x2="325.84" y2="133.40" stroke="#444" stroke-width="0.5" />
<line x1="280.00" y1="86.63" x2="281.10" y2="86.63" stroke="#444" stroke-width="0.5" />
<line x1="327.25" y1="132.30" x2="327.25" y2="133.40" stroke="#444" stroke-width="0.5" />
<line x1="280.00" y1="85.40" x2="281.10" y2="85.40" stroke="#444" stroke-width="0.5" />
<line x1="328.49" y1="132.30" x2="328.49" y2="133.40" stroke="#444" stroke-width="0.5" />
<line x1="280.00" y1="77.08" x2="281.10" y2="77.08" stroke="#444" stroke-width="0.5" />
<line x1="336.90" y1="132.30" x2="336.90" y2="133.40" stroke="#444" stroke-width="0.5" />
<line x1="280.00" y1="72.85" x2="281.10" y2="72.85" stroke="#444" stroke-width="0.5" />
<line x1="341.17" y1="132.30" x2="341.17" y2="133.40" stroke="#444" stroke-width="0.5" />
<line x1="280.00" y1="69.85" x2="281.10" y2="69.85" stroke="#444" stroke-width="0.5" />
<line x1="344.20" y1="132.30" x2="344.20" y2="133.40" stroke="#444" stroke-width="0.5" />
<line x1="280.00" y1="67.52" x2="281.10" y2="67.52" stroke="#444" stroke-width="0.5" />
<line x1="346.55" y1="132.30" x2="346.55" y2="133.40" stroke="#444" stroke-width="0.5" />
<line x1="280.00" y1="65.62" x2="281.10" y2="65.62" stroke="#444" stroke-width="0.5" />
<line x1="348.47" y1="132.30" x2="348.47" y2="133.40" stroke="#444" stroke-width="0.5" />
<line x1="280.00" y1="64.02" x2="281.10" y2="64.02" stroke="#444" stroke-width="0.5" />
<line x1="350.09" y1="132.30" x2="350.09" y2="133.40" stroke="#444" stroke-width="0.5" />
<line x1="280.00" y1="62.63" x2="281.10" y2="62.63" stroke="#444" stroke-width="0.5" />
<line x1="351.50" y1="132.30" x2="351.50" y2="133.40" stroke="#444" stroke-width="0.5" />
<line x1="280.00" y1="61.40" x2="281.10" y2="61.40" stroke="#444" stroke-width="0.5" />
<line x1="352.74" y1="132.30" x2="352.74" y2="133.40" stroke="#444" stroke-width="0.5" />
<line x1="280.00" y1="53.08" x2="281.10" y2="53.08" stroke="#444" stroke-width="0.5" />
<line x1="361.15" y1="132.30" x2="361.15" y2="133.40" stroke="#444" stroke-width="0.5" />
<line x1="280.00" y1="48.85" x2="281.10" y2="48.85" stroke="#444" stroke-width="0.5" />
<line x1="365.42" y1="132.30" x2="365.42" y2="133.40" stroke="#444" stroke-width="0.5" />
<line x1="280.00" y1="45.85" x2="281.10" y2="45.85" stroke="#444" stroke-width="0.5" />
<line x1="368.45" y1="132.30" x2="368.45" y2="133.40" stroke="#444" stroke-width="0.5" />
<line x1="280.00" y1="43.52" x2="281.10" y2="43.52" stroke="#444" stroke-width="0.5" />
<line x1="370.80" y1="132.30" x2="370.80" y2="133.40" stroke="#444" stroke-width="0.5" />
<line x1="280.00" y1="41.62" x2="281.10" y2="41.62" stroke="#444" stroke-width="0.5" />
<line x1="372.72" y1="132.30" x2="372.72" y2="133.40" stroke="#444" stroke-width="0.5" />
<line x1="280.00" y1="40.02" x2="281.10" y2="40.02" stroke="#444" stroke-width="0.5" />
<line x1="374.34" y1="132.30" x2="374.34" y2="133.40" stroke="#444" stroke-width="0.5" />
<line x1="280.00" y1="38.63" x2="281.10" y2="38.63" stroke="#444" stroke-width="0.5" />
<line x1="375.75" y1="132.30" x2="375.75" y2="133.40" stroke="#444" stroke-width="0.5" />
<line x1="280.00" y1="37.40" x2="281.10" y2="37.40" stroke="#444" stroke-width="0.5" />
<line x1="376.99" y1="132.30" x2="376.99" y2="133.40" stroke="#444" stroke-width="0.5" />
<line x1="279.50" y1="132.30" x2="281.10" y2="132.30" stroke="#555" stroke-width="0.5" />
<line x1="281.10" y1="132.30" x2="281.10" y2="133.90" stroke="#555" stroke-width="0.5" />
<line x1="279.50" y1="108.30" x2="281.10" y2="108.30" stroke="#555" stroke-width="0.5" />
<line x1="305.35" y1="132.30" x2="305.35" y2="133.90" stroke="#555" stroke-width="0.5" />
<line x1="279.50" y1="84.30" x2="281.10" y2="84.30" stroke="#555" stroke-width="0.5" />
<line x1="329.60" y1="132.30" x2="329.60" y2="133.90" stroke="#555" stroke-width="0.5" />
<line x1="279.50" y1="60.30" x2="281.10" y2="60.30" stroke="#555" stroke-width="0.5" />
<line x1="353.85" y1="132.30" x2="353.85" y2="133.90" stroke="#555" stroke-width="0.5" />
<line x1="279.50" y1="36.30" x2="281.10" y2="36.30" stroke="#555" stroke-width="0.5" />
<line x1="378.10" y1="132.30" x2="378.10" y2="133.90" stroke="#555" stroke-width="0.5" />
<line x1="269.40" y1="56.50" x2="269.40" y2="131.80" stroke="#000" stroke-width="1.15" />
<path d="M269.40 54.00 L267.00 58.40 L271.80 58.40 Z" fill="#000"/>
<text x="267.90" y="127.60" font-size="9.9" text-anchor="start" font-weight="bold" fill="#000" textLength="47.40" lengthAdjust="spacingAndGlyphs" transform="rotate(-90 267.90 127.60)" stroke="#000" stroke-width="0.3" >CXCR4-PE</text>
<text x="352.00" y="50.70" font-size="9.7" text-anchor="start" font-weight="bold" fill="#000" textLength="18.60" lengthAdjust="spacingAndGlyphs" stroke="#000" stroke-width="0.3" >51.9</text>
<text x="282.90" y="41.60" font-size="4.3" text-anchor="start" font-weight="normal" fill="#000" stroke="#000" stroke-width="0.24">0</text>
<text x="282.90" y="131.00" font-size="4.3" text-anchor="start" font-weight="normal" fill="#000" stroke="#000" stroke-width="0.24">0</text>
<text x="367.60" y="130.90" font-size="4.3" text-anchor="start" font-weight="normal" fill="#111" stroke="#111" stroke-width="0.22">48.1</text>
<clipPath id="c3"><path d="M313.00 132.20 C313.10 128.50 313.47 116.93 313.60 110.00 C313.73 103.07 313.50 95.87 313.80 90.60 C314.10 85.33 314.43 81.07 315.40 78.40 C316.37 75.73 317.90 75.40 319.60 74.60 C321.30 73.80 323.67 73.37 325.60 73.60 C327.53 73.83 329.83 74.43 331.20 76.00 C332.57 77.57 333.07 80.57 333.80 83.00 C334.53 85.43 335.23 87.10 335.60 90.60 C335.97 94.10 335.95 99.72 336.00 104.00 C336.05 108.28 336.00 112.55 335.90 116.30 C335.80 120.05 335.02 123.85 335.40 126.50 C335.78 129.15 337.73 131.25 338.20 132.20 Z"/></clipPath>
<path d="M313.00 132.20 C313.10 128.50 313.47 116.93 313.60 110.00 C313.73 103.07 313.50 95.87 313.80 90.60 C314.10 85.33 314.43 81.07 315.40 78.40 C316.37 75.73 317.90 75.40 319.60 74.60 C321.30 73.80 323.67 73.37 325.60 73.60 C327.53 73.83 329.83 74.43 331.20 76.00 C332.57 77.57 333.07 80.57 333.80 83.00 C334.53 85.43 335.23 87.10 335.60 90.60 C335.97 94.10 335.95 99.72 336.00 104.00 C336.05 108.28 336.00 112.55 335.90 116.30 C335.80 120.05 335.02 123.85 335.40 126.50 C335.78 129.15 337.73 131.25 338.20 132.20 Z" fill="#000" stroke="#000" stroke-width="0.8" stroke-linejoin="round"/>
<path d="M314.50 132.20 C314.50 128.55 314.47 117.15 314.50 110.31 C314.53 103.47 314.41 96.38 314.69 91.18 C314.96 85.99 315.27 81.78 316.16 79.15 C317.06 76.52 318.48 76.20 320.05 75.41 C321.62 74.62 323.81 74.19 325.60 74.42 C327.39 74.65 329.52 75.24 330.78 76.79 C332.04 78.33 332.51 81.29 333.19 83.69 C333.86 86.09 334.51 87.73 334.85 91.18 C335.19 94.63 335.17 100.17 335.22 104.39 C335.27 108.62 335.22 112.83 335.13 116.52 C335.03 120.22 334.74 123.97 334.66 126.58 C334.59 129.19 334.66 131.26 334.66 132.20 Z" fill="#e6e6e6"/>
<path d="M315.10 132.20 C315.10 128.58 315.07 117.27 315.10 110.49 C315.13 103.71 315.01 96.67 315.28 91.52 C315.54 86.36 315.83 82.19 316.67 79.58 C317.52 76.98 318.86 76.65 320.35 75.87 C321.84 75.08 323.91 74.66 325.60 74.89 C327.29 75.12 329.30 75.70 330.50 77.24 C331.70 78.77 332.13 81.70 332.78 84.08 C333.42 86.46 334.03 88.09 334.35 91.52 C334.67 94.94 334.66 100.43 334.70 104.62 C334.74 108.81 334.70 112.98 334.61 116.65 C334.52 120.32 334.25 124.03 334.17 126.63 C334.10 129.22 334.17 131.27 334.17 132.20 Z" fill="#111"/>
<g clip-path="url(#c3)"><g filter="url(#bl)"><path d="M316.00 132.20 C316.00 128.62 315.97 117.42 316.00 110.71 C316.03 104.00 315.92 97.03 316.16 91.93 C316.40 86.83 316.67 82.70 317.44 80.12 C318.21 77.54 319.44 77.22 320.80 76.44 C322.16 75.67 324.05 75.25 325.60 75.48 C327.15 75.70 328.99 76.28 330.08 77.80 C331.17 79.31 331.57 82.22 332.16 84.57 C332.75 86.93 333.31 88.54 333.60 91.93 C333.89 95.32 333.88 100.76 333.92 104.90 C333.96 109.05 333.92 113.18 333.84 116.81 C333.76 120.44 333.51 124.12 333.44 126.68 C333.37 129.25 333.44 131.28 333.44 132.20 Z" fill="#5c5c5c"/><path d="M317.20 132.20 C317.20 128.67 317.18 117.62 317.20 111.00 C317.22 104.38 317.13 97.50 317.34 92.47 C317.55 87.44 317.78 83.37 318.46 80.82 C319.14 78.27 320.21 77.96 321.40 77.19 C322.59 76.43 324.25 76.01 325.60 76.24 C326.95 76.46 328.56 77.03 329.52 78.53 C330.48 80.03 330.83 82.89 331.34 85.21 C331.85 87.54 332.34 89.13 332.60 92.47 C332.86 95.81 332.85 101.18 332.88 105.27 C332.91 109.36 332.88 113.43 332.81 117.02 C332.74 120.60 332.52 124.23 332.46 126.76 C332.40 129.29 332.46 131.29 332.46 132.20 Z" fill="#ababab"/><path d="M318.40 132.20 C318.40 128.74 318.38 117.93 318.40 111.44 C318.42 104.96 318.34 98.23 318.52 93.30 C318.70 88.38 318.90 84.39 319.48 81.90 C320.06 79.40 320.98 79.09 322.00 78.34 C323.02 77.60 324.44 77.19 325.60 77.41 C326.76 77.63 328.14 78.19 328.96 79.65 C329.78 81.12 330.08 83.92 330.52 86.20 C330.96 88.47 331.38 90.03 331.60 93.30 C331.82 96.58 331.81 101.83 331.84 105.83 C331.87 109.84 331.84 113.83 331.78 117.33 C331.72 120.84 331.53 124.39 331.48 126.87 C331.43 129.35 331.48 131.31 331.48 132.20 Z" fill="#8e8e8e"/><path d="M319.60 132.20 C319.60 128.87 319.58 118.46 319.60 112.22 C319.62 105.98 319.55 99.50 319.70 94.76 C319.85 90.02 320.02 86.18 320.50 83.78 C320.98 81.38 321.75 81.08 322.60 80.36 C323.45 79.64 324.63 79.25 325.60 79.46 C326.57 79.67 327.72 80.21 328.40 81.62 C329.08 83.03 329.33 85.73 329.70 87.92 C330.07 90.11 330.42 91.61 330.60 94.76 C330.78 97.91 330.78 102.96 330.80 106.82 C330.82 110.67 330.80 114.52 330.75 117.89 C330.70 121.27 330.54 124.69 330.50 127.07 C330.46 129.45 330.50 131.34 330.50 132.20 Z" fill="#333"/><path d="M320.80 132.20 C320.80 129.02 320.79 119.07 320.80 113.11 C320.81 107.15 320.76 100.95 320.88 96.42 C321.00 91.89 321.13 88.23 321.52 85.93 C321.91 83.64 322.52 83.35 323.20 82.66 C323.88 81.98 324.83 81.60 325.60 81.80 C326.37 82.00 327.29 82.52 327.84 83.87 C328.39 85.22 328.59 87.80 328.88 89.89 C329.17 91.98 329.45 93.41 329.60 96.42 C329.75 99.43 329.74 104.26 329.76 107.95 C329.78 111.63 329.76 115.30 329.72 118.53 C329.68 121.75 329.55 125.02 329.52 127.30 C329.49 129.58 329.52 131.38 329.52 132.20 Z" fill="#0a0a0a"/></g></g>
<path d="M318.00 132.20 V89.70 Q318.00 84.00 323.70 84.00 Q329.40 84.00 329.40 89.70 V132.20 Z" fill="#1e1e1e" stroke="#f4f4f4" stroke-width="0.7"/>
<path d="M319.40 132.20 V90.54 Q319.40 86.24 323.70 86.24 Q328.00 86.24 328.00 90.54 V132.20 Z" fill="#3c3c3c" stroke="#e6e6e6" stroke-width="0.55"/>
<path d="M320.70 132.20 V91.32 Q320.70 88.32 323.70 88.32 Q326.70 88.32 326.70 91.32 V132.20 Z" fill="#262626" stroke="#d0d0d0" stroke-width="0.45"/>
<ellipse cx="323.9" cy="92.2" rx="1.8" ry="2.9" fill="#1a1a1a" stroke="#ddd" stroke-width="0.35"/>
<ellipse cx="323.9" cy="92.2" rx="0.8" ry="1.7" fill="#fff"/>
<ellipse cx="323.9" cy="106" rx="1.75" ry="2.3" fill="#1a1a1a" stroke="#ddd" stroke-width="0.35"/>
<ellipse cx="323.9" cy="106" rx="0.75" ry="1.1" fill="#fff"/>
<ellipse cx="323.9" cy="127.5" rx="1.55" ry="3.4000000000000004" fill="#1a1a1a" stroke="#ddd" stroke-width="0.35"/>
<ellipse cx="323.9" cy="127.5" rx="0.55" ry="2.2" fill="#fff"/>
<line x1="306.00" y1="36.30" x2="306.00" y2="132.30" stroke="#606060" stroke-width="1.0" />
<line x1="281.10" y1="112.60" x2="378.10" y2="112.60" stroke="#606060" stroke-width="1.0" />
<path d="M29.00 190.50 H124.60 V283.50" fill="none" stroke="#7d7d7d" stroke-width="1.0"/>
<path d="M29.00 190.50 V283.50 H124.60" fill="none" stroke="#3a3a3a" stroke-width="1.15"/>
<text x="25.40" y="284.70" font-size="4.2" text-anchor="end" fill="#1a1a1a" stroke="#1a1a1a" stroke-width="0.1" font-weight="normal">10<tspan dy="-1.8" font-size="3.0">0</tspan></text>
<text x="29.30" y="293.20" font-size="4.2" text-anchor="middle" fill="#1a1a1a" stroke="#1a1a1a" stroke-width="0.1" font-weight="normal">10<tspan dy="-1.8" font-size="3.0">0</tspan></text>
<text x="25.40" y="261.45" font-size="4.2" text-anchor="end" fill="#1a1a1a" stroke="#1a1a1a" stroke-width="0.1" font-weight="normal">10<tspan dy="-1.8" font-size="3.0">1</tspan></text>
<text x="53.20" y="293.20" font-size="4.2" text-anchor="middle" fill="#1a1a1a" stroke="#1a1a1a" stroke-width="0.1" font-weight="normal">10<tspan dy="-1.8" font-size="3.0">1</tspan></text>
<text x="25.40" y="238.20" font-size="4.2" text-anchor="end" fill="#1a1a1a" stroke="#1a1a1a" stroke-width="0.1" font-weight="normal">10<tspan dy="-1.8" font-size="3.0">2</tspan></text>
<text x="77.10" y="293.20" font-size="4.2" text-anchor="middle" fill="#1a1a1a" stroke="#1a1a1a" stroke-width="0.1" font-weight="normal">10<tspan dy="-1.8" font-size="3.0">2</tspan></text>
<text x="25.40" y="214.95" font-size="4.2" text-anchor="end" fill="#1a1a1a" stroke="#1a1a1a" stroke-width="0.1" font-weight="normal">10<tspan dy="-1.8" font-size="3.0">3</tspan></text>
<text x="101.00" y="293.20" font-size="4.2" text-anchor="middle" fill="#1a1a1a" stroke="#1a1a1a" stroke-width="0.1" font-weight="normal">10<tspan dy="-1.8" font-size="3.0">3</tspan></text>
<text x="25.40" y="191.70" font-size="4.2" text-anchor="end" fill="#1a1a1a" stroke="#1a1a1a" stroke-width="0.1" font-weight="normal">10<tspan dy="-1.8" font-size="3.0">4</tspan></text>
<text x="124.90" y="293.20" font-size="4.2" text-anchor="middle" fill="#1a1a1a" stroke="#1a1a1a" stroke-width="0.1" font-weight="normal">10<tspan dy="-1.8" font-size="3.0">4</tspan></text>
<line x1="27.90" y1="276.50" x2="29.00" y2="276.50" stroke="#444" stroke-width="0.5" />
<line x1="36.19" y1="283.50" x2="36.19" y2="284.60" stroke="#444" stroke-width="0.5" />
<line x1="27.90" y1="272.41" x2="29.00" y2="272.41" stroke="#444" stroke-width="0.5" />
<line x1="40.40" y1="283.50" x2="40.40" y2="284.60" stroke="#444" stroke-width="0.5" />
<line x1="27.90" y1="269.50" x2="29.00" y2="269.50" stroke="#444" stroke-width="0.5" />
<line x1="43.39" y1="283.50" x2="43.39" y2="284.60" stroke="#444" stroke-width="0.5" />
<line x1="27.90" y1="267.25" x2="29.00" y2="267.25" stroke="#444" stroke-width="0.5" />
<line x1="45.71" y1="283.50" x2="45.71" y2="284.60" stroke="#444" stroke-width="0.5" />
<line x1="27.90" y1="265.41" x2="29.00" y2="265.41" stroke="#444" stroke-width="0.5" />
<line x1="47.60" y1="283.50" x2="47.60" y2="284.60" stroke="#444" stroke-width="0.5" />
<line x1="27.90" y1="263.85" x2="29.00" y2="263.85" stroke="#444" stroke-width="0.5" />
<line x1="49.20" y1="283.50" x2="49.20" y2="284.60" stroke="#444" stroke-width="0.5" />
<line x1="27.90" y1="262.50" x2="29.00" y2="262.50" stroke="#444" stroke-width="0.5" />
<line x1="50.58" y1="283.50" x2="50.58" y2="284.60" stroke="#444" stroke-width="0.5" />
<line x1="27.90" y1="261.31" x2="29.00" y2="261.31" stroke="#444" stroke-width="0.5" />
<line x1="51.81" y1="283.50" x2="51.81" y2="284.60" stroke="#444" stroke-width="0.5" />
<line x1="27.90" y1="253.25" x2="29.00" y2="253.25" stroke="#444" stroke-width="0.5" />
<line x1="60.09" y1="283.50" x2="60.09" y2="284.60" stroke="#444" stroke-width="0.5" />
<line x1="27.90" y1="249.16" x2="29.00" y2="249.16" stroke="#444" stroke-width="0.5" />
<line x1="64.30" y1="283.50" x2="64.30" y2="284.60" stroke="#444" stroke-width="0.5" />
<line x1="27.90" y1="246.25" x2="29.00" y2="246.25" stroke="#444" stroke-width="0.5" />
<line x1="67.29" y1="283.50" x2="67.29" y2="284.60" stroke="#444" stroke-width="0.5" />
<line x1="27.90" y1="244.00" x2="29.00" y2="244.00" stroke="#444" stroke-width="0.5" />
<line x1="69.61" y1="283.50" x2="69.61" y2="284.60" stroke="#444" stroke-width="0.5" />
<line x1="27.90" y1="242.16" x2="29.00" y2="242.16" stroke="#444" stroke-width="0.5" />
<line x1="71.50" y1="283.50" x2="71.50" y2="284.60" stroke="#444" stroke-width="0.5" />
<line x1="27.90" y1="240.60" x2="29.00" y2="240.60" stroke="#444" stroke-width="0.5" />
<line x1="73.10" y1="283.50" x2="73.10" y2="284.60" stroke="#444" stroke-width="0.5" />
<line x1="27.90" y1="239.25" x2="29.00" y2="239.25" stroke="#444" stroke-width="0.5" />
<line x1="74.48" y1="283.50" x2="74.48" y2="284.60" stroke="#444" stroke-width="0.5" />
<line x1="27.90" y1="238.06" x2="29.00" y2="238.06" stroke="#444" stroke-width="0.5" />
<line x1="75.71" y1="283.50" x2="75.71" y2="284.60" stroke="#444" stroke-width="0.5" />
<line x1="27.90" y1="230.00" x2="29.00" y2="230.00" stroke="#444" stroke-width="0.5" />
<line x1="83.99" y1="283.50" x2="83.99" y2="284.60" stroke="#444" stroke-width="0.5" />
<line x1="27.90" y1="225.91" x2="29.00" y2="225.91" stroke="#444" stroke-width="0.5" />
<line x1="88.20" y1="283.50" x2="88.20" y2="284.60" stroke="#444" stroke-width="0.5" />
<line x1="27.90" y1="223.00" x2="29.00" y2="223.00" stroke="#444" stroke-width="0.5" />
<line x1="91.19" y1="283.50" x2="91.19" y2="284.60" stroke="#444" stroke-width="0.5" />
<line x1="27.90" y1="220.75" x2="29.00" y2="220.75" stroke="#444" stroke-width="0.5" />
<line x1="93.51" y1="283.50" x2="93.51" y2="284.60" stroke="#444" stroke-width="0.5" />
<line x1="27.90" y1="218.91" x2="29.00" y2="218.91" stroke="#444" stroke-width="0.5" />
<line x1="95.40" y1="283.50" x2="95.40" y2="284.60" stroke="#444" stroke-width="0.5" />
<line x1="27.90" y1="217.35" x2="29.00" y2="217.35" stroke="#444" stroke-width="0.5" />
<line x1="97.00" y1="283.50" x2="97.00" y2="284.60" stroke="#444" stroke-width="0.5" />
<line x1="27.90" y1="216.00" x2="29.00" y2="216.00" stroke="#444" stroke-width="0.5" />
<line x1="98.38" y1="283.50" x2="98.38" y2="284.60" stroke="#444" stroke-width="0.5" />
<line x1="27.90" y1="214.81" x2="29.00" y2="214.81" stroke="#444" stroke-width="0.5" />
<line x1="99.61" y1="283.50" x2="99.61" y2="284.60" stroke="#444" stroke-width="0.5" />
<line x1="27.90" y1="206.75" x2="29.00" y2="206.75" stroke="#444" stroke-width="0.5" />
<line x1="107.89" y1="283.50" x2="107.89" y2="284.60" stroke="#444" stroke-width="0.5" />
<line x1="27.90" y1="202.66" x2="29.00" y2="202.66" stroke="#444" stroke-width="0.5" />
<line x1="112.10" y1="283.50" x2="112.10" y2="284.60" stroke="#444" stroke-width="0.5" />
<line x1="27.90" y1="199.75" x2="29.00" y2="199.75" stroke="#444" stroke-width="0.5" />
<line x1="115.09" y1="283.50" x2="115.09" y2="284.60" stroke="#444" stroke-width="0.5" />
<line x1="27.90" y1="197.50" x2="29.00" y2="197.50" stroke="#444" stroke-width="0.5" />
<line x1="117.41" y1="283.50" x2="117.41" y2="284.60" stroke="#444" stroke-width="0.5" />
<line x1="27.90" y1="195.66" x2="29.00" y2="195.66" stroke="#444" stroke-width="0.5" />
<line x1="119.30" y1="283.50" x2="119.30" y2="284.60" stroke="#444" stroke-width="0.5" />
<line x1="27.90" y1="194.10" x2="29.00" y2="194.10" stroke="#444" stroke-width="0.5" />
<line x1="120.90" y1="283.50" x2="120.90" y2="284.60" stroke="#444" stroke-width="0.5" />
<line x1="27.90" y1="192.75" x2="29.00" y2="192.75" stroke="#444" stroke-width="0.5" />
<line x1="122.28" y1="283.50" x2="122.28" y2="284.60" stroke="#444" stroke-width="0.5" />
<line x1="27.90" y1="191.56" x2="29.00" y2="191.56" stroke="#444" stroke-width="0.5" />
<line x1="123.51" y1="283.50" x2="123.51" y2="284.60" stroke="#444" stroke-width="0.5" />
<line x1="27.40" y1="283.50" x2="29.00" y2="283.50" stroke="#555" stroke-width="0.5" />
<line x1="29.00" y1="283.50" x2="29.00" y2="285.10" stroke="#555" stroke-width="0.5" />
<line x1="27.40" y1="260.25" x2="29.00" y2="260.25" stroke="#555" stroke-width="0.5" />
<line x1="52.90" y1="283.50" x2="52.90" y2="285.10" stroke="#555" stroke-width="0.5" />
<line x1="27.40" y1="237.00" x2="29.00" y2="237.00" stroke="#555" stroke-width="0.5" />
<line x1="76.80" y1="283.50" x2="76.80" y2="285.10" stroke="#555" stroke-width="0.5" />
<line x1="27.40" y1="213.75" x2="29.00" y2="213.75" stroke="#555" stroke-width="0.5" />
<line x1="100.70" y1="283.50" x2="100.70" y2="285.10" stroke="#555" stroke-width="0.5" />
<line x1="27.40" y1="190.50" x2="29.00" y2="190.50" stroke="#555" stroke-width="0.5" />
<line x1="124.60" y1="283.50" x2="124.60" y2="285.10" stroke="#555" stroke-width="0.5" />
<line x1="15.70" y1="192.50" x2="15.70" y2="282.80" stroke="#000" stroke-width="1.15" />
<path d="M15.70 190.00 L13.30 194.40 L18.10 194.40 Z" fill="#000"/>
<line x1="29.00" y1="293.60" x2="118.50" y2="293.60" stroke="#000" stroke-width="1.15" />
<path d="M121.00 293.60 L116.60 291.20 L116.60 296.00 Z" fill="#000"/>
<text x="12.90" y="277.90" font-size="9.8" text-anchor="start" font-weight="bold" fill="#000" textLength="11.20" lengthAdjust="spacingAndGlyphs" transform="rotate(-90 12.90 277.90)" stroke="#000" stroke-width="0.3" >PE</text>
<text x="29.80" y="303.30" font-size="9.9" text-anchor="start" font-weight="bold" fill="#000" textLength="20.30" lengthAdjust="spacingAndGlyphs" stroke="#000" stroke-width="0.3" >FITC</text>
<text x="94.00" y="203.20" font-size="9.7" text-anchor="start" font-weight="bold" fill="#000" textLength="23.00" lengthAdjust="spacingAndGlyphs" stroke="#000" stroke-width="0.3" >0.078</text>
<text x="30.60" y="196.20" font-size="4.3" text-anchor="start" font-weight="normal" fill="#000" stroke="#000" stroke-width="0.24">0.3</text>
<text x="30.20" y="282.40" font-size="4.3" text-anchor="start" font-weight="normal" fill="#000" stroke="#000" stroke-width="0.24">99.5</text>
<text x="115.70" y="282.20" font-size="4.3" text-anchor="start" font-weight="normal" fill="#111" stroke="#111" stroke-width="0.22">0.17</text>
<g fill="#d0d0d0"><circle cx="80.8" cy="271.7" r="0.32"/><circle cx="70.8" cy="270.8" r="0.32"/><circle cx="98.5" cy="271.3" r="0.32"/><circle cx="111.2" cy="260.9" r="0.32"/><circle cx="81.3" cy="262.4" r="0.32"/><circle cx="64.3" cy="266.5" r="0.32"/><circle cx="84.4" cy="271.4" r="0.32"/><circle cx="97.3" cy="255.2" r="0.32"/><circle cx="84.1" cy="263.0" r="0.32"/><circle cx="69.7" cy="278.4" r="0.32"/><circle cx="75.5" cy="252.4" r="0.32"/><circle cx="86.2" cy="265.7" r="0.32"/><circle cx="56.5" cy="260.6" r="0.32"/><circle cx="67.5" cy="267.8" r="0.32"/><circle cx="71.5" cy="268.6" r="0.32"/><circle cx="116.7" cy="261.6" r="0.32"/><circle cx="63.9" cy="266.0" r="0.32"/><circle cx="101.9" cy="262.4" r="0.32"/><circle cx="108.7" cy="257.5" r="0.32"/><circle cx="59.4" cy="267.6" r="0.32"/><circle cx="62.7" cy="263.1" r="0.32"/><circle cx="89.0" cy="273.8" r="0.32"/><circle cx="82.3" cy="265.8" r="0.32"/><circle cx="106.9" cy="271.2" r="0.32"/><circle cx="75.3" cy="277.7" r="0.32"/><circle cx="62.0" cy="269.3" r="0.32"/><circle cx="93.2" cy="267.9" r="0.32"/><circle cx="68.5" cy="270.8" r="0.32"/><circle cx="69.2" cy="263.2" r="0.32"/><circle cx="59.5" cy="278.4" r="0.32"/><circle cx="69.0" cy="277.2" r="0.32"/><circle cx="87.6" cy="265.9" r="0.32"/><circle cx="93.4" cy="270.2" r="0.32"/><circle cx="82.6" cy="257.0" r="0.32"/><circle cx="81.4" cy="275.2" r="0.32"/><circle cx="89.7" cy="276.0" r="0.32"/><circle cx="109.8" cy="271.3" r="0.32"/><circle cx="119.5" cy="255.9" r="0.32"/><circle cx="75.2" cy="247.8" r="0.32"/></g>
<clipPath id="ci4"><path d="M25.20 268.20 C26.50 266.12 30.95 267.02 33.00 266.20 C35.05 265.38 35.72 264.30 37.50 263.30 C39.28 262.30 41.95 260.97 43.70 260.20 C45.45 259.43 46.85 258.97 48.00 258.70 C49.15 258.43 50.02 258.40 50.60 258.60 C51.18 258.80 51.53 259.30 51.50 259.90 C51.47 260.50 51.28 260.52 50.40 262.20 C49.52 263.88 47.62 267.57 46.20 270.00 C44.78 272.43 42.97 275.37 41.90 276.80 C40.83 278.23 41.12 278.25 39.80 278.60 C38.48 278.95 36.43 278.88 34.00 278.90 C31.57 278.92 26.67 280.48 25.20 278.70 C23.73 276.92 23.90 270.28 25.20 268.20 Z"/></clipPath>
<clipPath id="cx4"><rect x="28.60" y="243.50" width="40" height="42"/></clipPath>
<g clip-path="url(#cx4)"><g clip-path="url(#ci4)"><path d="M25.20 268.20 C26.50 266.12 30.95 267.02 33.00 266.20 C35.05 265.38 35.72 264.30 37.50 263.30 C39.28 262.30 41.95 260.97 43.70 260.20 C45.45 259.43 46.85 258.97 48.00 258.70 C49.15 258.43 50.02 258.40 50.60 258.60 C51.18 258.80 51.53 259.30 51.50 259.90 C51.47 260.50 51.28 260.52 50.40 262.20 C49.52 263.88 47.62 267.57 46.20 270.00 C44.78 272.43 42.97 275.37 41.90 276.80 C40.83 278.23 41.12 278.25 39.80 278.60 C38.48 278.95 36.43 278.88 34.00 278.90 C31.57 278.92 26.67 280.48 25.20 278.70 C23.73 276.92 23.90 270.28 25.20 268.20 Z" fill="#f6f6f6"/><g transform="rotate(-31 40.2 268.9)"><ellipse cx="39.6" cy="268.9" rx="13.6" ry="5.3" fill="#0a0a0a"/><ellipse cx="39.6" cy="268.9" rx="12.2" ry="4.2" fill="#4a4a4a"/></g><path d="M25.20 268.20 C26.50 266.12 30.95 267.02 33.00 266.20 C35.05 265.38 35.72 264.30 37.50 263.30 C39.28 262.30 41.95 260.97 43.70 260.20 C45.45 259.43 46.85 258.97 48.00 258.70 C49.15 258.43 50.02 258.40 50.60 258.60 C51.18 258.80 51.53 259.30 51.50 259.90 C51.47 260.50 51.28 260.52 50.40 262.20 C49.52 263.88 47.62 267.57 46.20 270.00 C44.78 272.43 42.97 275.37 41.90 276.80 C40.83 278.23 41.12 278.25 39.80 278.60 C38.48 278.95 36.43 278.88 34.00 278.90 C31.57 278.92 26.67 280.48 25.20 278.70 C23.73 276.92 23.90 270.28 25.20 268.20 Z" fill="none" stroke="#f6f6f6" stroke-width="2.3" stroke-linejoin="round"/></g><path d="M25.20 268.20 C26.50 266.12 30.95 267.02 33.00 266.20 C35.05 265.38 35.72 264.30 37.50 263.30 C39.28 262.30 41.95 260.97 43.70 260.20 C45.45 259.43 46.85 258.97 48.00 258.70 C49.15 258.43 50.02 258.40 50.60 258.60 C51.18 258.80 51.53 259.30 51.50 259.90 C51.47 260.50 51.28 260.52 50.40 262.20 C49.52 263.88 47.62 267.57 46.20 270.00 C44.78 272.43 42.97 275.37 41.90 276.80 C40.83 278.23 41.12 278.25 39.80 278.60 C38.48 278.95 36.43 278.88 34.00 278.90 C31.57 278.92 26.67 280.48 25.20 278.70 C23.73 276.92 23.90 270.28 25.20 268.20 Z" fill="none" stroke="#000" stroke-width="0.95" stroke-linejoin="round"/><g transform="rotate(-31 40.2 268.9)" fill="none"><ellipse cx="40.2" cy="268.9" rx="7.4" ry="2.3" stroke="#c8c8c8" stroke-width="0.35"/><ellipse cx="40.2" cy="268.9" rx="5.6" ry="1.7" stroke="#1a1a1a" stroke-width="0.4"/><ellipse cx="40.2" cy="268.9" rx="4.2" ry="1.25" stroke="#b8b8b8" stroke-width="0.35"/><ellipse cx="40.2" cy="268.9" rx="2.8" ry="0.85" stroke="#222" stroke-width="0.4"/><ellipse cx="40.2" cy="268.9" rx="1.5" ry="0.5" fill="#000"/></g></g>
<rect x="28.50" y="268.20" width="1.3" height="15.30" fill="#1c1c1c"/>
<line x1="53.50" y1="190.50" x2="53.50" y2="283.50" stroke="#606060" stroke-width="1.0" />
<line x1="29.00" y1="259.40" x2="124.60" y2="259.40" stroke="#606060" stroke-width="1.0" />
<path d="M150.90 189.90 H245.60 V283.70" fill="none" stroke="#7d7d7d" stroke-width="1.0"/>
<path d="M150.90 189.90 V283.70 H245.60" fill="none" stroke="#3a3a3a" stroke-width="1.15"/>
<text x="147.30" y="284.90" font-size="4.2" text-anchor="end" fill="#1a1a1a" stroke="#1a1a1a" stroke-width="0.1" font-weight="normal">10<tspan dy="-1.8" font-size="3.0">0</tspan></text>
<text x="151.20" y="293.40" font-size="4.2" text-anchor="middle" fill="#1a1a1a" stroke="#1a1a1a" stroke-width="0.1" font-weight="normal">10<tspan dy="-1.8" font-size="3.0">0</tspan></text>
<text x="147.30" y="261.45" font-size="4.2" text-anchor="end" fill="#1a1a1a" stroke="#1a1a1a" stroke-width="0.1" font-weight="normal">10<tspan dy="-1.8" font-size="3.0">1</tspan></text>
<text x="174.88" y="293.40" font-size="4.2" text-anchor="middle" fill="#1a1a1a" stroke="#1a1a1a" stroke-width="0.1" font-weight="normal">10<tspan dy="-1.8" font-size="3.0">1</tspan></text>
<text x="147.30" y="238.00" font-size="4.2" text-anchor="end" fill="#1a1a1a" stroke="#1a1a1a" stroke-width="0.1" font-weight="normal">10<tspan dy="-1.8" font-size="3.0">2</tspan></text>
<text x="198.55" y="293.40" font-size="4.2" text-anchor="middle" fill="#1a1a1a" stroke="#1a1a1a" stroke-width="0.1" font-weight="normal">10<tspan dy="-1.8" font-size="3.0">2</tspan></text>
<text x="147.30" y="214.55" font-size="4.2" text-anchor="end" fill="#1a1a1a" stroke="#1a1a1a" stroke-width="0.1" font-weight="normal">10<tspan dy="-1.8" font-size="3.0">3</tspan></text>
<text x="222.23" y="293.40" font-size="4.2" text-anchor="middle" fill="#1a1a1a" stroke="#1a1a1a" stroke-width="0.1" font-weight="normal">10<tspan dy="-1.8" font-size="3.0">3</tspan></text>
<text x="147.30" y="191.10" font-size="4.2" text-anchor="end" fill="#1a1a1a" stroke="#1a1a1a" stroke-width="0.1" font-weight="normal">10<tspan dy="-1.8" font-size="3.0">4</tspan></text>
<text x="245.90" y="293.40" font-size="4.2" text-anchor="middle" fill="#1a1a1a" stroke="#1a1a1a" stroke-width="0.1" font-weight="normal">10<tspan dy="-1.8" font-size="3.0">4</tspan></text>
<line x1="149.80" y1="276.64" x2="150.90" y2="276.64" stroke="#444" stroke-width="0.5" />
<line x1="158.03" y1="283.70" x2="158.03" y2="284.80" stroke="#444" stroke-width="0.5" />
<line x1="149.80" y1="272.51" x2="150.90" y2="272.51" stroke="#444" stroke-width="0.5" />
<line x1="162.20" y1="283.70" x2="162.20" y2="284.80" stroke="#444" stroke-width="0.5" />
<line x1="149.80" y1="269.58" x2="150.90" y2="269.58" stroke="#444" stroke-width="0.5" />
<line x1="165.15" y1="283.70" x2="165.15" y2="284.80" stroke="#444" stroke-width="0.5" />
<line x1="149.80" y1="267.31" x2="150.90" y2="267.31" stroke="#444" stroke-width="0.5" />
<line x1="167.45" y1="283.70" x2="167.45" y2="284.80" stroke="#444" stroke-width="0.5" />
<line x1="149.80" y1="265.45" x2="150.90" y2="265.45" stroke="#444" stroke-width="0.5" />
<line x1="169.32" y1="283.70" x2="169.32" y2="284.80" stroke="#444" stroke-width="0.5" />
<line x1="149.80" y1="263.88" x2="150.90" y2="263.88" stroke="#444" stroke-width="0.5" />
<line x1="170.91" y1="283.70" x2="170.91" y2="284.80" stroke="#444" stroke-width="0.5" />
<line x1="149.80" y1="262.52" x2="150.90" y2="262.52" stroke="#444" stroke-width="0.5" />
<line x1="172.28" y1="283.70" x2="172.28" y2="284.80" stroke="#444" stroke-width="0.5" />
<line x1="149.80" y1="261.32" x2="150.90" y2="261.32" stroke="#444" stroke-width="0.5" />
<line x1="173.49" y1="283.70" x2="173.49" y2="284.80" stroke="#444" stroke-width="0.5" />
<line x1="149.80" y1="253.19" x2="150.90" y2="253.19" stroke="#444" stroke-width="0.5" />
<line x1="181.70" y1="283.70" x2="181.70" y2="284.80" stroke="#444" stroke-width="0.5" />
<line x1="149.80" y1="249.06" x2="150.90" y2="249.06" stroke="#444" stroke-width="0.5" />
<line x1="185.87" y1="283.70" x2="185.87" y2="284.80" stroke="#444" stroke-width="0.5" />
<line x1="149.80" y1="246.13" x2="150.90" y2="246.13" stroke="#444" stroke-width="0.5" />
<line x1="188.83" y1="283.70" x2="188.83" y2="284.80" stroke="#444" stroke-width="0.5" />
<line x1="149.80" y1="243.86" x2="150.90" y2="243.86" stroke="#444" stroke-width="0.5" />
<line x1="191.12" y1="283.70" x2="191.12" y2="284.80" stroke="#444" stroke-width="0.5" />
<line x1="149.80" y1="242.00" x2="150.90" y2="242.00" stroke="#444" stroke-width="0.5" />
<line x1="193.00" y1="283.70" x2="193.00" y2="284.80" stroke="#444" stroke-width="0.5" />
<line x1="149.80" y1="240.43" x2="150.90" y2="240.43" stroke="#444" stroke-width="0.5" />
<line x1="194.58" y1="283.70" x2="194.58" y2="284.80" stroke="#444" stroke-width="0.5" />
<line x1="149.80" y1="239.07" x2="150.90" y2="239.07" stroke="#444" stroke-width="0.5" />
<line x1="195.96" y1="283.70" x2="195.96" y2="284.80" stroke="#444" stroke-width="0.5" />
<line x1="149.80" y1="237.87" x2="150.90" y2="237.87" stroke="#444" stroke-width="0.5" />
<line x1="197.17" y1="283.70" x2="197.17" y2="284.80" stroke="#444" stroke-width="0.5" />
<line x1="149.80" y1="229.74" x2="150.90" y2="229.74" stroke="#444" stroke-width="0.5" />
<line x1="205.38" y1="283.70" x2="205.38" y2="284.80" stroke="#444" stroke-width="0.5" />
<line x1="149.80" y1="225.61" x2="150.90" y2="225.61" stroke="#444" stroke-width="0.5" />
<line x1="209.55" y1="283.70" x2="209.55" y2="284.80" stroke="#444" stroke-width="0.5" />
<line x1="149.80" y1="222.68" x2="150.90" y2="222.68" stroke="#444" stroke-width="0.5" />
<line x1="212.50" y1="283.70" x2="212.50" y2="284.80" stroke="#444" stroke-width="0.5" />
<line x1="149.80" y1="220.41" x2="150.90" y2="220.41" stroke="#444" stroke-width="0.5" />
<line x1="214.80" y1="283.70" x2="214.80" y2="284.80" stroke="#444" stroke-width="0.5" />
<line x1="149.80" y1="218.55" x2="150.90" y2="218.55" stroke="#444" stroke-width="0.5" />
<line x1="216.67" y1="283.70" x2="216.67" y2="284.80" stroke="#444" stroke-width="0.5" />
<line x1="149.80" y1="216.98" x2="150.90" y2="216.98" stroke="#444" stroke-width="0.5" />
<line x1="218.26" y1="283.70" x2="218.26" y2="284.80" stroke="#444" stroke-width="0.5" />
<line x1="149.80" y1="215.62" x2="150.90" y2="215.62" stroke="#444" stroke-width="0.5" />
<line x1="219.63" y1="283.70" x2="219.63" y2="284.80" stroke="#444" stroke-width="0.5" />
<line x1="149.80" y1="214.42" x2="150.90" y2="214.42" stroke="#444" stroke-width="0.5" />
<line x1="220.84" y1="283.70" x2="220.84" y2="284.80" stroke="#444" stroke-width="0.5" />
<line x1="149.80" y1="206.29" x2="150.90" y2="206.29" stroke="#444" stroke-width="0.5" />
<line x1="229.05" y1="283.70" x2="229.05" y2="284.80" stroke="#444" stroke-width="0.5" />
<line x1="149.80" y1="202.16" x2="150.90" y2="202.16" stroke="#444" stroke-width="0.5" />
<line x1="233.22" y1="283.70" x2="233.22" y2="284.80" stroke="#444" stroke-width="0.5" />
<line x1="149.80" y1="199.23" x2="150.90" y2="199.23" stroke="#444" stroke-width="0.5" />
<line x1="236.18" y1="283.70" x2="236.18" y2="284.80" stroke="#444" stroke-width="0.5" />
<line x1="149.80" y1="196.96" x2="150.90" y2="196.96" stroke="#444" stroke-width="0.5" />
<line x1="238.47" y1="283.70" x2="238.47" y2="284.80" stroke="#444" stroke-width="0.5" />
<line x1="149.80" y1="195.10" x2="150.90" y2="195.10" stroke="#444" stroke-width="0.5" />
<line x1="240.35" y1="283.70" x2="240.35" y2="284.80" stroke="#444" stroke-width="0.5" />
<line x1="149.80" y1="193.53" x2="150.90" y2="193.53" stroke="#444" stroke-width="0.5" />
<line x1="241.93" y1="283.70" x2="241.93" y2="284.80" stroke="#444" stroke-width="0.5" />
<line x1="149.80" y1="192.17" x2="150.90" y2="192.17" stroke="#444" stroke-width="0.5" />
<line x1="243.31" y1="283.70" x2="243.31" y2="284.80" stroke="#444" stroke-width="0.5" />
<line x1="149.80" y1="190.97" x2="150.90" y2="190.97" stroke="#444" stroke-width="0.5" />
<line x1="244.52" y1="283.70" x2="244.52" y2="284.80" stroke="#444" stroke-width="0.5" />
<line x1="149.30" y1="283.70" x2="150.90" y2="283.70" stroke="#555" stroke-width="0.5" />
<line x1="150.90" y1="283.70" x2="150.90" y2="285.30" stroke="#555" stroke-width="0.5" />
<line x1="149.30" y1="260.25" x2="150.90" y2="260.25" stroke="#555" stroke-width="0.5" />
<line x1="174.57" y1="283.70" x2="174.57" y2="285.30" stroke="#555" stroke-width="0.5" />
<line x1="149.30" y1="236.80" x2="150.90" y2="236.80" stroke="#555" stroke-width="0.5" />
<line x1="198.25" y1="283.70" x2="198.25" y2="285.30" stroke="#555" stroke-width="0.5" />
<line x1="149.30" y1="213.35" x2="150.90" y2="213.35" stroke="#555" stroke-width="0.5" />
<line x1="221.93" y1="283.70" x2="221.93" y2="285.30" stroke="#555" stroke-width="0.5" />
<line x1="149.30" y1="189.90" x2="150.90" y2="189.90" stroke="#555" stroke-width="0.5" />
<line x1="245.60" y1="283.70" x2="245.60" y2="285.30" stroke="#555" stroke-width="0.5" />
<line x1="139.40" y1="209.30" x2="139.40" y2="284.00" stroke="#000" stroke-width="1.15" />
<path d="M139.40 206.80 L137.00 211.20 L141.80 211.20 Z" fill="#000"/>
<line x1="153.00" y1="293.60" x2="368.30" y2="293.60" stroke="#000" stroke-width="1.15" />
<path d="M370.80 293.60 L366.40 291.20 L366.40 296.00 Z" fill="#000"/>
<text x="137.40" y="277.60" font-size="9.9" text-anchor="start" font-weight="bold" fill="#000" textLength="42.00" lengthAdjust="spacingAndGlyphs" transform="rotate(-90 137.40 277.60)" stroke="#000" stroke-width="0.3" >CCR5-PE</text>
<text x="150.80" y="303.60" font-size="9.9" text-anchor="start" font-weight="bold" fill="#000" textLength="41.20" lengthAdjust="spacingAndGlyphs" stroke="#000" stroke-width="0.3" >CD4-FITC</text>
<text x="218.50" y="202.00" font-size="9.7" text-anchor="start" font-weight="bold" fill="#000" textLength="18.20" lengthAdjust="spacingAndGlyphs" stroke="#000" stroke-width="0.3" >2.96</text>
<text x="152.40" y="195.60" font-size="4.3" text-anchor="start" font-weight="normal" fill="#000" stroke="#000" stroke-width="0.24">0</text>
<text x="152.40" y="282.60" font-size="4.3" text-anchor="start" font-weight="normal" fill="#000" stroke="#000" stroke-width="0.24">0</text>
<text x="239.20" y="282.50" font-size="4.3" text-anchor="start" font-weight="normal" fill="#111" stroke="#111" stroke-width="0.22">97</text>
<text x="242.80" y="195.60" font-size="4.3" text-anchor="start" font-weight="normal" fill="#111" stroke="#111" stroke-width="0.22">0</text>
<g fill="#b4b4b4"><circle cx="191.0" cy="238.4" r="0.36"/><circle cx="201.2" cy="229.8" r="0.36"/><circle cx="196.7" cy="230.1" r="0.36"/><circle cx="203.6" cy="248.5" r="0.36"/><circle cx="205.0" cy="243.2" r="0.36"/><circle cx="199.7" cy="244.9" r="0.36"/><circle cx="193.4" cy="248.1" r="0.36"/><circle cx="190.6" cy="244.3" r="0.36"/><circle cx="201.3" cy="247.4" r="0.36"/><circle cx="195.2" cy="263.4" r="0.36"/><circle cx="197.8" cy="242.6" r="0.36"/><circle cx="198.4" cy="243.1" r="0.36"/><circle cx="195.4" cy="244.4" r="0.36"/><circle cx="208.6" cy="247.2" r="0.36"/><circle cx="198.5" cy="252.1" r="0.36"/><circle cx="208.6" cy="245.3" r="0.36"/><circle cx="194.1" cy="265.6" r="0.36"/><circle cx="189.5" cy="244.2" r="0.36"/><circle cx="201.2" cy="264.1" r="0.36"/><circle cx="192.3" cy="228.8" r="0.36"/><circle cx="201.1" cy="243.1" r="0.36"/><circle cx="195.4" cy="250.5" r="0.36"/><circle cx="198.7" cy="249.2" r="0.36"/><circle cx="195.1" cy="256.7" r="0.36"/><circle cx="205.8" cy="247.2" r="0.36"/><circle cx="195.0" cy="252.5" r="0.36"/><circle cx="200.1" cy="239.2" r="0.36"/><circle cx="195.0" cy="254.9" r="0.36"/><circle cx="197.0" cy="244.5" r="0.36"/><circle cx="198.7" cy="246.7" r="0.36"/><circle cx="197.5" cy="232.5" r="0.36"/><circle cx="207.1" cy="248.5" r="0.36"/><circle cx="192.7" cy="254.3" r="0.36"/><circle cx="199.2" cy="247.1" r="0.36"/><circle cx="203.3" cy="264.0" r="0.36"/><circle cx="200.5" cy="258.9" r="0.36"/><circle cx="209.4" cy="239.3" r="0.36"/><circle cx="194.6" cy="252.8" r="0.36"/><circle cx="188.1" cy="245.0" r="0.36"/><circle cx="204.6" cy="254.8" r="0.36"/><circle cx="200.7" cy="232.8" r="0.36"/><circle cx="210.4" cy="251.1" r="0.36"/><circle cx="201.7" cy="250.7" r="0.36"/><circle cx="188.1" cy="236.2" r="0.36"/><circle cx="190.8" cy="261.4" r="0.36"/><circle cx="192.9" cy="245.2" r="0.36"/><circle cx="196.1" cy="251.3" r="0.36"/><circle cx="200.3" cy="249.0" r="0.36"/><circle cx="190.6" cy="223.5" r="0.36"/><circle cx="198.4" cy="249.0" r="0.36"/><circle cx="204.3" cy="246.2" r="0.36"/><circle cx="194.1" cy="250.1" r="0.36"/><circle cx="189.0" cy="239.2" r="0.36"/><circle cx="192.0" cy="249.2" r="0.36"/><circle cx="209.0" cy="252.7" r="0.36"/><circle cx="203.8" cy="248.8" r="0.36"/><circle cx="199.0" cy="243.6" r="0.36"/><circle cx="196.0" cy="228.8" r="0.36"/><circle cx="190.9" cy="237.3" r="0.36"/><circle cx="202.1" cy="252.0" r="0.36"/><circle cx="203.8" cy="258.7" r="0.36"/><circle cx="195.8" cy="254.9" r="0.36"/><circle cx="208.3" cy="246.9" r="0.36"/><circle cx="203.5" cy="245.8" r="0.36"/><circle cx="188.6" cy="247.9" r="0.36"/><circle cx="193.0" cy="247.8" r="0.36"/><circle cx="195.0" cy="249.4" r="0.36"/><circle cx="185.7" cy="262.6" r="0.36"/><circle cx="205.0" cy="244.4" r="0.36"/><circle cx="192.5" cy="247.0" r="0.36"/><circle cx="201.2" cy="250.2" r="0.36"/><circle cx="199.7" cy="232.2" r="0.36"/><circle cx="191.3" cy="257.1" r="0.36"/><circle cx="198.8" cy="235.6" r="0.36"/><circle cx="192.7" cy="236.1" r="0.36"/><circle cx="191.9" cy="255.9" r="0.36"/><circle cx="196.3" cy="255.5" r="0.36"/><circle cx="198.5" cy="235.6" r="0.36"/><circle cx="193.9" cy="264.4" r="0.36"/><circle cx="193.2" cy="239.0" r="0.36"/><circle cx="204.4" cy="247.7" r="0.36"/><circle cx="197.5" cy="258.2" r="0.36"/><circle cx="187.6" cy="250.2" r="0.36"/><circle cx="191.6" cy="236.3" r="0.36"/><circle cx="192.9" cy="255.8" r="0.36"/><circle cx="196.7" cy="233.0" r="0.36"/><circle cx="191.3" cy="258.7" r="0.36"/><circle cx="203.2" cy="238.6" r="0.36"/><circle cx="211.1" cy="244.2" r="0.36"/><circle cx="190.8" cy="246.0" r="0.36"/><circle cx="202.8" cy="259.3" r="0.36"/><circle cx="203.3" cy="243.7" r="0.36"/><circle cx="194.3" cy="235.8" r="0.36"/><circle cx="197.1" cy="242.4" r="0.36"/><circle cx="198.9" cy="237.3" r="0.36"/><circle cx="194.6" cy="240.2" r="0.36"/><circle cx="190.7" cy="237.9" r="0.36"/><circle cx="191.8" cy="237.9" r="0.36"/><circle cx="200.7" cy="247.8" r="0.36"/><circle cx="190.1" cy="250.9" r="0.36"/></g>
<g fill="#909090"><circle cx="198.4" cy="252.9" r="0.38"/><circle cx="197.2" cy="251.2" r="0.38"/><circle cx="198.6" cy="253.0" r="0.38"/><circle cx="204.1" cy="249.9" r="0.38"/><circle cx="213.0" cy="243.3" r="0.38"/><circle cx="197.9" cy="255.7" r="0.38"/><circle cx="196.2" cy="250.6" r="0.38"/><circle cx="197.1" cy="255.2" r="0.38"/><circle cx="205.2" cy="248.2" r="0.38"/><circle cx="198.8" cy="251.0" r="0.38"/><circle cx="203.9" cy="251.4" r="0.38"/><circle cx="198.3" cy="256.3" r="0.38"/><circle cx="195.4" cy="253.6" r="0.38"/><circle cx="192.3" cy="251.9" r="0.38"/><circle cx="185.0" cy="250.1" r="0.38"/><circle cx="193.8" cy="250.6" r="0.38"/><circle cx="210.3" cy="245.6" r="0.38"/><circle cx="183.1" cy="253.4" r="0.38"/><circle cx="200.8" cy="253.2" r="0.38"/><circle cx="204.1" cy="259.2" r="0.38"/><circle cx="194.0" cy="248.5" r="0.38"/><circle cx="195.9" cy="256.4" r="0.38"/><circle cx="199.6" cy="252.1" r="0.38"/><circle cx="198.9" cy="253.6" r="0.38"/><circle cx="186.2" cy="254.1" r="0.38"/><circle cx="191.8" cy="252.0" r="0.38"/><circle cx="193.7" cy="253.0" r="0.38"/><circle cx="202.8" cy="252.1" r="0.38"/><circle cx="198.0" cy="255.6" r="0.38"/><circle cx="199.9" cy="250.7" r="0.38"/><circle cx="202.0" cy="251.5" r="0.38"/><circle cx="195.3" cy="253.4" r="0.38"/><circle cx="206.4" cy="250.1" r="0.38"/><circle cx="194.6" cy="253.2" r="0.38"/><circle cx="191.7" cy="253.1" r="0.38"/><circle cx="204.9" cy="247.2" r="0.38"/><circle cx="197.2" cy="250.5" r="0.38"/><circle cx="209.8" cy="254.6" r="0.38"/><circle cx="200.8" cy="252.4" r="0.38"/><circle cx="190.6" cy="253.0" r="0.38"/></g>
<clipPath id="c5"><path d="M187.60 283.70 C187.37 281.87 186.35 275.65 186.20 272.70 C186.05 269.75 186.17 267.85 186.70 266.00 C187.23 264.15 188.15 262.82 189.40 261.60 C190.65 260.38 192.97 259.45 194.20 258.70 C195.43 257.95 195.47 257.22 196.80 257.10 C198.13 256.98 200.47 257.37 202.20 258.00 C203.93 258.63 205.83 259.47 207.20 260.90 C208.57 262.33 209.67 264.47 210.40 266.60 C211.13 268.73 211.48 271.57 211.60 273.70 C211.72 275.83 210.70 277.73 211.10 279.40 C211.50 281.07 213.52 282.98 214.00 283.70 Z"/></clipPath>
<path d="M187.60 283.70 C187.37 281.87 186.35 275.65 186.20 272.70 C186.05 269.75 186.17 267.85 186.70 266.00 C187.23 264.15 188.15 262.82 189.40 261.60 C190.65 260.38 192.97 259.45 194.20 258.70 C195.43 257.95 195.47 257.22 196.80 257.10 C198.13 256.98 200.47 257.37 202.20 258.00 C203.93 258.63 205.83 259.47 207.20 260.90 C208.57 262.33 209.67 264.47 210.40 266.60 C211.13 268.73 211.48 271.57 211.60 273.70 C211.72 275.83 210.70 277.73 211.10 279.40 C211.50 281.07 213.52 282.98 214.00 283.70 Z" fill="#000" stroke="#000" stroke-width="0.8" stroke-linejoin="round"/>
<g clip-path="url(#c5)"><g filter="url(#bl)"><path d="M188.45 283.70 C188.45 282.10 188.37 276.71 188.45 274.08 C188.52 271.45 188.42 269.62 188.88 267.92 C189.33 266.21 190.12 264.99 191.20 263.87 C192.27 262.75 194.27 261.89 195.33 261.20 C196.39 260.51 196.42 259.84 197.56 259.73 C198.71 259.62 200.72 259.97 202.21 260.56 C203.70 261.14 205.33 261.91 206.51 263.22 C207.68 264.54 208.63 266.51 209.26 268.47 C209.89 270.43 210.19 273.04 210.29 275.00 C210.39 276.96 209.93 278.79 209.86 280.24 C209.79 281.69 209.86 283.12 209.86 283.70 Z" fill="#484848"/><path d="M189.56 283.70 C189.56 282.21 189.49 277.19 189.56 274.74 C189.62 272.29 189.53 270.57 189.95 268.98 C190.36 267.39 191.08 266.24 192.05 265.19 C193.03 264.15 194.84 263.34 195.80 262.70 C196.76 262.06 196.79 261.42 197.83 261.32 C198.87 261.22 200.69 261.55 202.04 262.10 C203.39 262.64 204.87 263.36 205.94 264.59 C207.00 265.82 207.86 267.66 208.43 269.49 C209.01 271.33 209.28 273.77 209.37 275.60 C209.46 277.43 209.05 279.15 208.98 280.50 C208.92 281.85 208.98 283.17 208.98 283.70 Z" fill="#7c7c7c"/><path d="M190.67 283.70 C190.67 282.32 190.61 277.68 190.67 275.40 C190.73 273.12 190.65 271.52 191.02 270.04 C191.39 268.56 192.04 267.49 192.91 266.52 C193.79 265.55 195.41 264.80 196.27 264.20 C197.13 263.60 197.16 263.01 198.09 262.92 C199.02 262.83 200.66 263.13 201.87 263.64 C203.08 264.15 204.41 264.81 205.37 265.96 C206.33 267.11 207.10 268.81 207.61 270.52 C208.12 272.23 208.37 274.49 208.45 276.20 C208.53 277.91 208.16 279.51 208.10 280.76 C208.04 282.01 208.10 283.21 208.10 283.70 Z" fill="#a8a8a8"/><path d="M191.78 283.70 C191.78 282.43 191.73 278.16 191.78 276.06 C191.83 273.96 191.76 272.47 192.09 271.10 C192.42 269.73 192.99 268.75 193.77 267.85 C194.54 266.95 195.98 266.25 196.74 265.70 C197.51 265.14 197.53 264.60 198.35 264.52 C199.18 264.43 200.63 264.71 201.70 265.18 C202.78 265.65 203.95 266.27 204.80 267.33 C205.65 268.39 206.33 269.97 206.79 271.55 C207.24 273.12 207.46 275.22 207.53 276.80 C207.60 278.38 207.27 279.87 207.22 281.02 C207.17 282.17 207.22 283.25 207.22 283.70 Z" fill="#8e8e8e"/><path d="M192.89 283.70 C192.89 282.54 192.85 278.64 192.89 276.72 C192.94 274.80 192.88 273.42 193.16 272.16 C193.45 270.91 193.95 270.00 194.62 269.17 C195.30 268.34 196.55 267.71 197.21 267.20 C197.88 266.69 197.90 266.19 198.62 266.11 C199.34 266.03 200.60 266.29 201.53 266.72 C202.47 267.15 203.50 267.72 204.23 268.70 C204.97 269.67 205.57 271.12 205.96 272.57 C206.36 274.02 206.55 275.95 206.61 277.40 C206.67 278.85 206.38 280.23 206.34 281.28 C206.30 282.33 206.34 283.30 206.34 283.70 Z" fill="#5c5c5c"/></g></g>
<g fill="none"><ellipse cx="198.9" cy="273.6" rx="7.73" ry="7.36" stroke="#f4f4f4" stroke-width="0.6"/><ellipse cx="198.9" cy="273.6" rx="6.50" ry="6.24" stroke="#1e1e1e" stroke-width="0.6"/><ellipse cx="198.9" cy="273.6" rx="5.26" ry="5.12" stroke="#f4f4f4" stroke-width="0.6"/><ellipse cx="198.9" cy="273.6" rx="4.03" ry="4.00" stroke="#1e1e1e" stroke-width="0.6"/><ellipse cx="198.9" cy="273.6" rx="2.80" ry="2.88" stroke="#f4f4f4" stroke-width="0.6"/><ellipse cx="198.9" cy="273.6" rx="1.57" ry="1.76" fill="#111" stroke="#eee" stroke-width="0.5"/></g>
<line x1="174.80" y1="189.90" x2="174.80" y2="283.70" stroke="#606060" stroke-width="1.0" />
<line x1="150.90" y1="262.90" x2="245.60" y2="262.90" stroke="#606060" stroke-width="1.0" />
<path d="M278.10 189.60 H373.30 V283.30" fill="none" stroke="#7d7d7d" stroke-width="1.0"/>
<path d="M278.10 189.60 V283.30 H373.30" fill="none" stroke="#3a3a3a" stroke-width="1.15"/>
<text x="274.50" y="284.50" font-size="4.2" text-anchor="end" fill="#1a1a1a" stroke="#1a1a1a" stroke-width="0.1" font-weight="normal">10<tspan dy="-1.8" font-size="3.0">0</tspan></text>
<text x="278.40" y="293.00" font-size="4.2" text-anchor="middle" fill="#1a1a1a" stroke="#1a1a1a" stroke-width="0.1" font-weight="normal">10<tspan dy="-1.8" font-size="3.0">0</tspan></text>
<text x="274.50" y="261.07" font-size="4.2" text-anchor="end" fill="#1a1a1a" stroke="#1a1a1a" stroke-width="0.1" font-weight="normal">10<tspan dy="-1.8" font-size="3.0">1</tspan></text>
<text x="302.20" y="293.00" font-size="4.2" text-anchor="middle" fill="#1a1a1a" stroke="#1a1a1a" stroke-width="0.1" font-weight="normal">10<tspan dy="-1.8" font-size="3.0">1</tspan></text>
<text x="274.50" y="237.65" font-size="4.2" text-anchor="end" fill="#1a1a1a" stroke="#1a1a1a" stroke-width="0.1" font-weight="normal">10<tspan dy="-1.8" font-size="3.0">2</tspan></text>
<text x="326.00" y="293.00" font-size="4.2" text-anchor="middle" fill="#1a1a1a" stroke="#1a1a1a" stroke-width="0.1" font-weight="normal">10<tspan dy="-1.8" font-size="3.0">2</tspan></text>
<text x="274.50" y="214.22" font-size="4.2" text-anchor="end" fill="#1a1a1a" stroke="#1a1a1a" stroke-width="0.1" font-weight="normal">10<tspan dy="-1.8" font-size="3.0">3</tspan></text>
<text x="349.80" y="293.00" font-size="4.2" text-anchor="middle" fill="#1a1a1a" stroke="#1a1a1a" stroke-width="0.1" font-weight="normal">10<tspan dy="-1.8" font-size="3.0">3</tspan></text>
<text x="274.50" y="190.80" font-size="4.2" text-anchor="end" fill="#1a1a1a" stroke="#1a1a1a" stroke-width="0.1" font-weight="normal">10<tspan dy="-1.8" font-size="3.0">4</tspan></text>
<text x="373.60" y="293.00" font-size="4.2" text-anchor="middle" fill="#1a1a1a" stroke="#1a1a1a" stroke-width="0.1" font-weight="normal">10<tspan dy="-1.8" font-size="3.0">4</tspan></text>
<line x1="277.00" y1="276.25" x2="278.10" y2="276.25" stroke="#444" stroke-width="0.5" />
<line x1="285.26" y1="283.30" x2="285.26" y2="284.40" stroke="#444" stroke-width="0.5" />
<line x1="277.00" y1="272.12" x2="278.10" y2="272.12" stroke="#444" stroke-width="0.5" />
<line x1="289.46" y1="283.30" x2="289.46" y2="284.40" stroke="#444" stroke-width="0.5" />
<line x1="277.00" y1="269.20" x2="278.10" y2="269.20" stroke="#444" stroke-width="0.5" />
<line x1="292.43" y1="283.30" x2="292.43" y2="284.40" stroke="#444" stroke-width="0.5" />
<line x1="277.00" y1="266.93" x2="278.10" y2="266.93" stroke="#444" stroke-width="0.5" />
<line x1="294.74" y1="283.30" x2="294.74" y2="284.40" stroke="#444" stroke-width="0.5" />
<line x1="277.00" y1="265.07" x2="278.10" y2="265.07" stroke="#444" stroke-width="0.5" />
<line x1="296.62" y1="283.30" x2="296.62" y2="284.40" stroke="#444" stroke-width="0.5" />
<line x1="277.00" y1="263.50" x2="278.10" y2="263.50" stroke="#444" stroke-width="0.5" />
<line x1="298.21" y1="283.30" x2="298.21" y2="284.40" stroke="#444" stroke-width="0.5" />
<line x1="277.00" y1="262.15" x2="278.10" y2="262.15" stroke="#444" stroke-width="0.5" />
<line x1="299.59" y1="283.30" x2="299.59" y2="284.40" stroke="#444" stroke-width="0.5" />
<line x1="277.00" y1="260.95" x2="278.10" y2="260.95" stroke="#444" stroke-width="0.5" />
<line x1="300.81" y1="283.30" x2="300.81" y2="284.40" stroke="#444" stroke-width="0.5" />
<line x1="277.00" y1="252.82" x2="278.10" y2="252.82" stroke="#444" stroke-width="0.5" />
<line x1="309.06" y1="283.30" x2="309.06" y2="284.40" stroke="#444" stroke-width="0.5" />
<line x1="277.00" y1="248.70" x2="278.10" y2="248.70" stroke="#444" stroke-width="0.5" />
<line x1="313.26" y1="283.30" x2="313.26" y2="284.40" stroke="#444" stroke-width="0.5" />
<line x1="277.00" y1="245.77" x2="278.10" y2="245.77" stroke="#444" stroke-width="0.5" />
<line x1="316.23" y1="283.30" x2="316.23" y2="284.40" stroke="#444" stroke-width="0.5" />
<line x1="277.00" y1="243.50" x2="278.10" y2="243.50" stroke="#444" stroke-width="0.5" />
<line x1="318.54" y1="283.30" x2="318.54" y2="284.40" stroke="#444" stroke-width="0.5" />
<line x1="277.00" y1="241.65" x2="278.10" y2="241.65" stroke="#444" stroke-width="0.5" />
<line x1="320.42" y1="283.30" x2="320.42" y2="284.40" stroke="#444" stroke-width="0.5" />
<line x1="277.00" y1="240.08" x2="278.10" y2="240.08" stroke="#444" stroke-width="0.5" />
<line x1="322.01" y1="283.30" x2="322.01" y2="284.40" stroke="#444" stroke-width="0.5" />
<line x1="277.00" y1="238.72" x2="278.10" y2="238.72" stroke="#444" stroke-width="0.5" />
<line x1="323.39" y1="283.30" x2="323.39" y2="284.40" stroke="#444" stroke-width="0.5" />
<line x1="277.00" y1="237.52" x2="278.10" y2="237.52" stroke="#444" stroke-width="0.5" />
<line x1="324.61" y1="283.30" x2="324.61" y2="284.40" stroke="#444" stroke-width="0.5" />
<line x1="277.00" y1="229.40" x2="278.10" y2="229.40" stroke="#444" stroke-width="0.5" />
<line x1="332.86" y1="283.30" x2="332.86" y2="284.40" stroke="#444" stroke-width="0.5" />
<line x1="277.00" y1="225.27" x2="278.10" y2="225.27" stroke="#444" stroke-width="0.5" />
<line x1="337.06" y1="283.30" x2="337.06" y2="284.40" stroke="#444" stroke-width="0.5" />
<line x1="277.00" y1="222.35" x2="278.10" y2="222.35" stroke="#444" stroke-width="0.5" />
<line x1="340.03" y1="283.30" x2="340.03" y2="284.40" stroke="#444" stroke-width="0.5" />
<line x1="277.00" y1="220.08" x2="278.10" y2="220.08" stroke="#444" stroke-width="0.5" />
<line x1="342.34" y1="283.30" x2="342.34" y2="284.40" stroke="#444" stroke-width="0.5" />
<line x1="277.00" y1="218.22" x2="278.10" y2="218.22" stroke="#444" stroke-width="0.5" />
<line x1="344.22" y1="283.30" x2="344.22" y2="284.40" stroke="#444" stroke-width="0.5" />
<line x1="277.00" y1="216.65" x2="278.10" y2="216.65" stroke="#444" stroke-width="0.5" />
<line x1="345.81" y1="283.30" x2="345.81" y2="284.40" stroke="#444" stroke-width="0.5" />
<line x1="277.00" y1="215.30" x2="278.10" y2="215.30" stroke="#444" stroke-width="0.5" />
<line x1="347.19" y1="283.30" x2="347.19" y2="284.40" stroke="#444" stroke-width="0.5" />
<line x1="277.00" y1="214.10" x2="278.10" y2="214.10" stroke="#444" stroke-width="0.5" />
<line x1="348.41" y1="283.30" x2="348.41" y2="284.40" stroke="#444" stroke-width="0.5" />
<line x1="277.00" y1="205.97" x2="278.10" y2="205.97" stroke="#444" stroke-width="0.5" />
<line x1="356.66" y1="283.30" x2="356.66" y2="284.40" stroke="#444" stroke-width="0.5" />
<line x1="277.00" y1="201.85" x2="278.10" y2="201.85" stroke="#444" stroke-width="0.5" />
<line x1="360.86" y1="283.30" x2="360.86" y2="284.40" stroke="#444" stroke-width="0.5" />
<line x1="277.00" y1="198.92" x2="278.10" y2="198.92" stroke="#444" stroke-width="0.5" />
<line x1="363.83" y1="283.30" x2="363.83" y2="284.40" stroke="#444" stroke-width="0.5" />
<line x1="277.00" y1="196.65" x2="278.10" y2="196.65" stroke="#444" stroke-width="0.5" />
<line x1="366.14" y1="283.30" x2="366.14" y2="284.40" stroke="#444" stroke-width="0.5" />
<line x1="277.00" y1="194.80" x2="278.10" y2="194.80" stroke="#444" stroke-width="0.5" />
<line x1="368.02" y1="283.30" x2="368.02" y2="284.40" stroke="#444" stroke-width="0.5" />
<line x1="277.00" y1="193.23" x2="278.10" y2="193.23" stroke="#444" stroke-width="0.5" />
<line x1="369.61" y1="283.30" x2="369.61" y2="284.40" stroke="#444" stroke-width="0.5" />
<line x1="277.00" y1="191.87" x2="278.10" y2="191.87" stroke="#444" stroke-width="0.5" />
<line x1="370.99" y1="283.30" x2="370.99" y2="284.40" stroke="#444" stroke-width="0.5" />
<line x1="277.00" y1="190.67" x2="278.10" y2="190.67" stroke="#444" stroke-width="0.5" />
<line x1="372.21" y1="283.30" x2="372.21" y2="284.40" stroke="#444" stroke-width="0.5" />
<line x1="276.50" y1="283.30" x2="278.10" y2="283.30" stroke="#555" stroke-width="0.5" />
<line x1="278.10" y1="283.30" x2="278.10" y2="284.90" stroke="#555" stroke-width="0.5" />
<line x1="276.50" y1="259.88" x2="278.10" y2="259.88" stroke="#555" stroke-width="0.5" />
<line x1="301.90" y1="283.30" x2="301.90" y2="284.90" stroke="#555" stroke-width="0.5" />
<line x1="276.50" y1="236.45" x2="278.10" y2="236.45" stroke="#555" stroke-width="0.5" />
<line x1="325.70" y1="283.30" x2="325.70" y2="284.90" stroke="#555" stroke-width="0.5" />
<line x1="276.50" y1="213.03" x2="278.10" y2="213.03" stroke="#555" stroke-width="0.5" />
<line x1="349.50" y1="283.30" x2="349.50" y2="284.90" stroke="#555" stroke-width="0.5" />
<line x1="276.50" y1="189.60" x2="278.10" y2="189.60" stroke="#555" stroke-width="0.5" />
<line x1="373.30" y1="283.30" x2="373.30" y2="284.90" stroke="#555" stroke-width="0.5" />
<line x1="267.00" y1="209.30" x2="267.00" y2="283.60" stroke="#000" stroke-width="1.15" />
<path d="M267.00 206.80 L264.60 211.20 L269.40 211.20 Z" fill="#000"/>
<text x="266.80" y="277.30" font-size="9.9" text-anchor="start" font-weight="bold" fill="#000" textLength="46.00" lengthAdjust="spacingAndGlyphs" transform="rotate(-90 266.80 277.30)" stroke="#000" stroke-width="0.3" >CXCR4-PE</text>
<text x="347.00" y="201.90" font-size="9.7" text-anchor="start" font-weight="bold" fill="#000" textLength="18.00" lengthAdjust="spacingAndGlyphs" stroke="#000" stroke-width="0.3" >39.6</text>
<text x="279.80" y="195.20" font-size="4.3" text-anchor="start" font-weight="normal" fill="#000" stroke="#000" stroke-width="0.24">0</text>
<text x="279.80" y="282.20" font-size="4.3" text-anchor="start" font-weight="normal" fill="#000" stroke="#000" stroke-width="0.24">0</text>
<text x="363.20" y="282.00" font-size="4.3" text-anchor="start" font-weight="normal" fill="#111" stroke="#111" stroke-width="0.22">60.4</text>
<text x="370.40" y="195.20" font-size="4.3" text-anchor="start" font-weight="normal" fill="#111" stroke="#111" stroke-width="0.22">0</text>
<clipPath id="c6"><path d="M316.20 283.20 C316.27 280.17 316.48 271.27 316.60 265.00 C316.72 258.73 316.60 250.67 316.90 245.60 C317.20 240.53 317.62 237.17 318.40 234.60 C319.18 232.03 320.53 231.27 321.60 230.20 C322.67 229.13 323.53 228.08 324.80 228.20 C326.07 228.32 328.10 229.48 329.20 230.90 C330.30 232.32 330.80 233.18 331.40 236.70 C332.00 240.22 332.47 247.28 332.80 252.00 C333.13 256.72 333.27 260.93 333.40 265.00 C333.53 269.07 332.87 273.37 333.60 276.40 C334.33 279.43 337.10 282.07 337.80 283.20 Z"/></clipPath>
<path d="M316.20 283.20 C316.27 280.17 316.48 271.27 316.60 265.00 C316.72 258.73 316.60 250.67 316.90 245.60 C317.20 240.53 317.62 237.17 318.40 234.60 C319.18 232.03 320.53 231.27 321.60 230.20 C322.67 229.13 323.53 228.08 324.80 228.20 C326.07 228.32 328.10 229.48 329.20 230.90 C330.30 232.32 330.80 233.18 331.40 236.70 C332.00 240.22 332.47 247.28 332.80 252.00 C333.13 256.72 333.27 260.93 333.40 265.00 C333.53 269.07 332.87 273.37 333.60 276.40 C334.33 279.43 337.10 282.07 337.80 283.20 Z" fill="#000" stroke="#000" stroke-width="0.8" stroke-linejoin="round"/>
<path d="M317.38 283.20 C317.38 280.21 317.33 271.43 317.38 265.25 C317.43 259.08 317.38 251.12 317.66 246.13 C317.93 241.13 318.32 237.81 319.04 235.28 C319.77 232.75 321.02 231.99 322.00 230.94 C322.99 229.89 323.79 228.85 324.97 228.97 C326.14 229.09 328.02 230.24 329.03 231.63 C330.05 233.03 330.51 233.88 331.07 237.35 C331.62 240.82 332.06 247.79 332.37 252.44 C332.67 257.09 332.80 261.25 332.92 265.25 C333.04 269.26 333.07 273.50 333.11 276.50 C333.14 279.49 333.11 282.08 333.11 283.20 Z" fill="#e6e6e6"/>
<path d="M317.90 283.20 C317.90 280.23 317.86 271.53 317.90 265.40 C317.94 259.27 317.90 251.38 318.16 246.43 C318.42 241.47 318.79 238.18 319.47 235.67 C320.16 233.16 321.34 232.41 322.28 231.37 C323.21 230.32 323.97 229.30 325.07 229.41 C326.18 229.52 327.96 230.67 328.93 232.05 C329.89 233.44 330.32 234.28 330.85 237.72 C331.37 241.16 331.78 248.07 332.07 252.69 C332.37 257.30 332.48 261.42 332.60 265.40 C332.72 269.38 332.75 273.58 332.78 276.55 C332.80 279.52 332.78 282.09 332.78 283.20 Z" fill="#111"/>
<g clip-path="url(#c6)"><g filter="url(#bl)"><path d="M318.68 283.20 C318.68 280.26 318.64 271.65 318.68 265.58 C318.72 259.52 318.68 251.71 318.92 246.80 C319.16 241.90 319.49 238.64 320.12 236.16 C320.75 233.67 321.83 232.93 322.68 231.90 C323.53 230.86 324.23 229.85 325.24 229.96 C326.25 230.07 327.88 231.20 328.76 232.57 C329.64 233.94 330.04 234.78 330.52 238.19 C331.00 241.59 331.37 248.43 331.64 253.00 C331.91 257.56 332.01 261.65 332.12 265.58 C332.23 269.52 332.25 273.68 332.28 276.62 C332.31 279.55 332.28 282.10 332.28 283.20 Z" fill="#5c5c5c"/><path d="M319.72 283.20 C319.72 280.30 319.69 271.80 319.72 265.82 C319.75 259.83 319.72 252.13 319.93 247.29 C320.14 242.45 320.43 239.24 320.98 236.79 C321.53 234.34 322.47 233.60 323.22 232.58 C323.97 231.57 324.57 230.56 325.46 230.67 C326.35 230.79 327.77 231.90 328.54 233.25 C329.31 234.61 329.66 235.43 330.08 238.79 C330.50 242.15 330.83 248.90 331.06 253.40 C331.29 257.91 331.39 261.94 331.48 265.82 C331.57 269.70 331.60 273.81 331.62 276.71 C331.64 279.60 331.62 282.12 331.62 283.20 Z" fill="#ababab"/><path d="M320.76 283.20 C320.76 280.36 320.73 272.04 320.76 266.18 C320.79 260.32 320.76 252.78 320.94 248.04 C321.12 243.31 321.37 240.16 321.84 237.76 C322.31 235.36 323.12 234.64 323.76 233.64 C324.40 232.65 324.92 231.67 325.68 231.77 C326.44 231.88 327.66 232.97 328.32 234.30 C328.98 235.62 329.28 236.43 329.64 239.72 C330.00 243.01 330.28 249.62 330.48 254.03 C330.68 258.44 330.76 262.38 330.84 266.18 C330.92 269.99 330.94 274.01 330.96 276.84 C330.98 279.68 330.96 282.14 330.96 283.20 Z" fill="#8e8e8e"/><path d="M321.80 283.20 C321.80 280.47 321.78 272.46 321.80 266.82 C321.82 261.18 321.80 253.92 321.95 249.36 C322.10 244.80 322.31 241.77 322.70 239.46 C323.09 237.15 323.77 236.46 324.30 235.50 C324.83 234.54 325.27 233.59 325.90 233.70 C326.53 233.80 327.55 234.85 328.10 236.13 C328.65 237.41 328.90 238.19 329.20 241.35 C329.50 244.51 329.73 250.88 329.90 255.12 C330.07 259.37 330.13 263.16 330.20 266.82 C330.27 270.48 330.28 274.35 330.30 277.08 C330.32 279.81 330.30 282.18 330.30 283.20 Z" fill="#333"/><path d="M322.84 283.20 C322.84 280.59 322.82 272.94 322.84 267.55 C322.86 262.16 322.84 255.22 322.96 250.86 C323.08 246.51 323.25 243.61 323.56 241.40 C323.87 239.20 324.41 238.54 324.84 237.62 C325.27 236.70 325.61 235.80 326.12 235.90 C326.63 236.00 327.44 237.00 327.88 238.22 C328.32 239.44 328.52 240.19 328.76 243.21 C329.00 246.23 329.19 252.31 329.32 256.37 C329.45 260.42 329.51 264.05 329.56 267.55 C329.61 271.05 329.63 274.74 329.64 277.35 C329.65 279.96 329.64 282.23 329.64 283.20 Z" fill="#0a0a0a"/></g></g>
<path d="M319.60 283.20 V243.20 Q319.60 239.00 323.80 239.00 Q328.00 239.00 328.00 243.20 V283.20 Z" fill="#1e1e1e" stroke="#f4f4f4" stroke-width="0.7"/>
<path d="M321.00 283.20 V244.04 Q321.00 241.24 323.80 241.24 Q326.60 241.24 326.60 244.04 V283.20 Z" fill="#3c3c3c" stroke="#e6e6e6" stroke-width="0.55"/>
<path d="M322.30 283.20 V244.82 Q322.30 243.32 323.80 243.32 Q325.30 243.32 325.30 244.82 V283.20 Z" fill="#262626" stroke="#d0d0d0" stroke-width="0.45"/>
<ellipse cx="323.0" cy="247" rx="1.55" ry="3.8" fill="#1a1a1a" stroke="#ddd" stroke-width="0.35"/>
<ellipse cx="323.0" cy="247" rx="0.55" ry="2.6" fill="#fff"/>
<ellipse cx="322.8" cy="262" rx="1.5" ry="2.8" fill="#1a1a1a" stroke="#ddd" stroke-width="0.35"/>
<ellipse cx="322.8" cy="262" rx="0.5" ry="1.6" fill="#fff"/>
<ellipse cx="323.0" cy="277" rx="1.4" ry="2.8" fill="#1a1a1a" stroke="#ddd" stroke-width="0.35"/>
<ellipse cx="323.0" cy="277" rx="0.4" ry="1.6" fill="#fff"/>
<line x1="301.50" y1="189.60" x2="301.50" y2="283.30" stroke="#606060" stroke-width="1.0" />
<line x1="278.10" y1="264.40" x2="373.30" y2="264.40" stroke="#606060" stroke-width="1.0" />
<line x1="402.60" y1="47.60" x2="402.60" y2="123.90" stroke="#000" stroke-width="1.3" />
<line x1="402.00" y1="123.20" x2="515.20" y2="123.20" stroke="#000" stroke-width="1.3" />
<line x1="399.70" y1="48.20" x2="402.60" y2="48.20" stroke="#000" stroke-width="1.1" />
<text x="399.50" y="50.20" font-size="5.5" text-anchor="end" font-weight="bold" fill="#000" textLength="6.12" lengthAdjust="spacingAndGlyphs" stroke="#000" stroke-width="0.28" >40</text>
<line x1="399.70" y1="67.20" x2="402.60" y2="67.20" stroke="#000" stroke-width="1.1" />
<text x="399.50" y="69.20" font-size="5.5" text-anchor="end" font-weight="bold" fill="#000" textLength="6.12" lengthAdjust="spacingAndGlyphs" stroke="#000" stroke-width="0.28" >30</text>
<line x1="399.70" y1="85.80" x2="402.60" y2="85.80" stroke="#000" stroke-width="1.1" />
<text x="399.50" y="87.80" font-size="5.5" text-anchor="end" font-weight="bold" fill="#000" textLength="6.12" lengthAdjust="spacingAndGlyphs" stroke="#000" stroke-width="0.28" >20</text>
<line x1="399.70" y1="104.40" x2="402.60" y2="104.40" stroke="#000" stroke-width="1.1" />
<text x="399.50" y="106.40" font-size="5.5" text-anchor="end" font-weight="bold" fill="#000" textLength="6.12" lengthAdjust="spacingAndGlyphs" stroke="#000" stroke-width="0.28" >10</text>
<line x1="399.70" y1="123.20" x2="402.60" y2="123.20" stroke="#000" stroke-width="1.1" />
<text x="399.50" y="125.20" font-size="5.5" text-anchor="end" font-weight="bold" fill="#000" textLength="3.06" lengthAdjust="spacingAndGlyphs" stroke="#000" stroke-width="0.28" >0</text>
<line x1="431.20" y1="76.20" x2="431.20" y2="90.00" stroke="#000" stroke-width="1.15" />
<line x1="421.60" y1="76.20" x2="440.80" y2="76.20" stroke="#000" stroke-width="1.15" />
<rect x="412.50" y="90.10" width="37.00" height="33.10" fill="#b2b2b2" stroke="#000" stroke-width="1.25"/>
<line x1="487.00" y1="59.60" x2="487.00" y2="77.00" stroke="#000" stroke-width="1.15" />
<line x1="477.40" y1="59.60" x2="496.60" y2="59.60" stroke="#000" stroke-width="1.15" />
<rect x="468.30" y="76.50" width="37.40" height="46.70" fill="#000" stroke="#000" stroke-width="1.25"/>
<text x="458.70" y="44.10" font-size="7.0" text-anchor="middle" font-weight="bold" fill="#000" textLength="22.20" lengthAdjust="spacingAndGlyphs" stroke="#000" stroke-width="0.28" >Pre-GT</text>
<line x1="430.90" y1="123.20" x2="430.90" y2="126.10" stroke="#000" stroke-width="1.1" />
<line x1="486.90" y1="123.20" x2="486.90" y2="126.10" stroke="#000" stroke-width="1.1" />
<text x="430.90" y="131.40" font-size="5.6" text-anchor="middle" font-weight="bold" fill="#000" textLength="15.30" lengthAdjust="spacingAndGlyphs" stroke="#000" stroke-width="0.28" >CCR5</text>
<text x="486.80" y="131.40" font-size="5.6" text-anchor="middle" font-weight="bold" fill="#000" textLength="19.00" lengthAdjust="spacingAndGlyphs" stroke="#000" stroke-width="0.28" >CXCR4</text>
<text x="387.2" y="103.9" font-size="5.7" font-weight="bold" stroke="#000" stroke-width="0.28" transform="rotate(-90 387.2 103.9)" textLength="36.1" lengthAdjust="spacingAndGlyphs">% CD4<tspan dy="-1.8" font-size="3.6">+</tspan><tspan dy="1.8"> cells</tspan></text>
<line x1="402.60" y1="205.00" x2="402.60" y2="281.00" stroke="#000" stroke-width="1.3" />
<line x1="402.00" y1="280.40" x2="515.20" y2="280.40" stroke="#000" stroke-width="1.3" />
<line x1="399.70" y1="205.60" x2="402.60" y2="205.60" stroke="#000" stroke-width="1.1" />
<text x="399.50" y="207.60" font-size="5.5" text-anchor="end" font-weight="bold" fill="#000" textLength="6.12" lengthAdjust="spacingAndGlyphs" stroke="#000" stroke-width="0.28" >25</text>
<line x1="399.70" y1="220.60" x2="402.60" y2="220.60" stroke="#000" stroke-width="1.1" />
<text x="399.50" y="222.60" font-size="5.5" text-anchor="end" font-weight="bold" fill="#000" textLength="6.12" lengthAdjust="spacingAndGlyphs" stroke="#000" stroke-width="0.28" >20</text>
<line x1="399.70" y1="235.80" x2="402.60" y2="235.80" stroke="#000" stroke-width="1.1" />
<text x="399.50" y="237.80" font-size="5.5" text-anchor="end" font-weight="bold" fill="#000" textLength="6.12" lengthAdjust="spacingAndGlyphs" stroke="#000" stroke-width="0.28" >15</text>
<line x1="399.70" y1="250.80" x2="402.60" y2="250.80" stroke="#000" stroke-width="1.1" />
<text x="399.50" y="252.80" font-size="5.5" text-anchor="end" font-weight="bold" fill="#000" textLength="6.12" lengthAdjust="spacingAndGlyphs" stroke="#000" stroke-width="0.28" >10</text>
<line x1="399.70" y1="265.60" x2="402.60" y2="265.60" stroke="#000" stroke-width="1.1" />
<text x="399.50" y="267.60" font-size="5.5" text-anchor="end" font-weight="bold" fill="#000" textLength="3.06" lengthAdjust="spacingAndGlyphs" stroke="#000" stroke-width="0.28" >5</text>
<line x1="399.70" y1="280.40" x2="402.60" y2="280.40" stroke="#000" stroke-width="1.1" />
<text x="399.50" y="282.40" font-size="5.5" text-anchor="end" font-weight="bold" fill="#000" textLength="3.06" lengthAdjust="spacingAndGlyphs" stroke="#000" stroke-width="0.28" >0</text>
<line x1="431.20" y1="261.00" x2="431.20" y2="266.00" stroke="#000" stroke-width="1.15" />
<line x1="421.60" y1="261.00" x2="440.80" y2="261.00" stroke="#000" stroke-width="1.15" />
<rect x="412.50" y="265.40" width="37.00" height="15.00" fill="#b2b2b2" stroke="#000" stroke-width="1.25"/>
<line x1="487.30" y1="211.40" x2="487.30" y2="237.00" stroke="#000" stroke-width="1.15" />
<line x1="477.70" y1="211.40" x2="496.90" y2="211.40" stroke="#000" stroke-width="1.15" />
<rect x="468.60" y="236.30" width="37.20" height="44.10" fill="#000" stroke="#000" stroke-width="1.25"/>
<path d="M431.00 208.90 V205.60 H486.90 V208.90" fill="none" stroke="#000" stroke-width="1.1"/>
<text x="460.40" y="203.90" font-size="5.4" text-anchor="middle" font-weight="bold" fill="#000" textLength="18.00" lengthAdjust="spacingAndGlyphs" stroke="#000" stroke-width="0.28" >p=0.02</text>
<text x="458.90" y="193.10" font-size="7.0" text-anchor="middle" font-weight="bold" fill="#000" textLength="27.90" lengthAdjust="spacingAndGlyphs" stroke="#000" stroke-width="0.28" >Post-GT</text>
<line x1="430.90" y1="280.40" x2="430.90" y2="283.30" stroke="#000" stroke-width="1.1" />
<line x1="487.00" y1="280.40" x2="487.00" y2="283.30" stroke="#000" stroke-width="1.1" />
<text x="430.50" y="287.40" font-size="5.6" text-anchor="middle" font-weight="bold" fill="#000" textLength="15.30" lengthAdjust="spacingAndGlyphs" stroke="#000" stroke-width="0.28" >CCR5</text>
<text x="486.80" y="287.40" font-size="5.6" text-anchor="middle" font-weight="bold" fill="#000" textLength="19.00" lengthAdjust="spacingAndGlyphs" stroke="#000" stroke-width="0.28" >CXCR4</text>
<text x="387.4" y="261.4" font-size="5.7" font-weight="bold" stroke="#000" stroke-width="0.28" transform="rotate(-90 387.4 261.4)" textLength="36.1" lengthAdjust="spacingAndGlyphs">% CD4<tspan dy="-1.8" font-size="3.6">+</tspan><tspan dy="1.8"> cells</tspan></text>
<circle cx="410.2" cy="295.5" r="0.55" fill="#333"/>
<circle cx="380.8" cy="139" r="0.5" fill="#444"/>
<line x1="103.20" y1="362.10" x2="103.20" y2="439.30" stroke="#000" stroke-width="1.3" />
<line x1="102.60" y1="438.70" x2="217.60" y2="438.70" stroke="#000" stroke-width="1.3" />
<line x1="100.30" y1="362.70" x2="103.20" y2="362.70" stroke="#000" stroke-width="1.1" />
<text x="99.70" y="364.70" font-size="5.4" text-anchor="end" font-weight="bold" fill="#000" stroke="#000" stroke-width="0.28" >2,000</text>
<line x1="100.30" y1="381.80" x2="103.20" y2="381.80" stroke="#000" stroke-width="1.1" />
<text x="99.70" y="383.80" font-size="5.4" text-anchor="end" font-weight="bold" fill="#000" stroke="#000" stroke-width="0.28" >1,500</text>
<line x1="100.30" y1="400.80" x2="103.20" y2="400.80" stroke="#000" stroke-width="1.1" />
<text x="99.70" y="402.80" font-size="5.4" text-anchor="end" font-weight="bold" fill="#000" stroke="#000" stroke-width="0.28" >1,000</text>
<line x1="100.30" y1="419.70" x2="103.20" y2="419.70" stroke="#000" stroke-width="1.1" />
<text x="99.70" y="421.70" font-size="5.4" text-anchor="end" font-weight="bold" fill="#000" stroke="#000" stroke-width="0.28" >500</text>
<line x1="100.30" y1="438.70" x2="103.20" y2="438.70" stroke="#000" stroke-width="1.1" />
<text x="99.70" y="440.70" font-size="5.4" text-anchor="end" font-weight="bold" fill="#000" stroke="#000" stroke-width="0.28" >0</text>
<line x1="103.20" y1="438.70" x2="103.20" y2="441.50" stroke="#000" stroke-width="1.1" />
<text x="103.20" y="447.00" font-size="5.4" text-anchor="middle" font-weight="bold" fill="#000" stroke="#000" stroke-width="0.28" >0</text>
<line x1="122.16" y1="438.70" x2="122.16" y2="441.50" stroke="#000" stroke-width="1.1" />
<text x="122.16" y="447.00" font-size="5.4" text-anchor="middle" font-weight="bold" fill="#000" stroke="#000" stroke-width="0.28" >3</text>
<line x1="141.12" y1="438.70" x2="141.12" y2="441.50" stroke="#000" stroke-width="1.1" />
<text x="141.12" y="447.00" font-size="5.4" text-anchor="middle" font-weight="bold" fill="#000" stroke="#000" stroke-width="0.28" >6</text>
<line x1="160.08" y1="438.70" x2="160.08" y2="441.50" stroke="#000" stroke-width="1.1" />
<text x="160.08" y="447.00" font-size="5.4" text-anchor="middle" font-weight="bold" fill="#000" stroke="#000" stroke-width="0.28" >9</text>
<line x1="179.04" y1="438.70" x2="179.04" y2="441.50" stroke="#000" stroke-width="1.1" />
<text x="179.04" y="447.00" font-size="5.4" text-anchor="middle" font-weight="bold" fill="#000" stroke="#000" stroke-width="0.28" >12</text>
<line x1="198.00" y1="438.70" x2="198.00" y2="441.50" stroke="#000" stroke-width="1.1" />
<text x="198.00" y="447.00" font-size="5.4" text-anchor="middle" font-weight="bold" fill="#000" stroke="#000" stroke-width="0.28" >15</text>
<line x1="216.96" y1="438.70" x2="216.96" y2="441.50" stroke="#000" stroke-width="1.1" />
<text x="216.96" y="447.00" font-size="5.4" text-anchor="middle" font-weight="bold" fill="#000" stroke="#000" stroke-width="0.28" >18</text>
<text x="158.30" y="354.80" font-size="7.5" text-anchor="middle" font-weight="bold" fill="#000" textLength="23.10" lengthAdjust="spacingAndGlyphs" stroke="#000" stroke-width="0.28" >Pre-GT</text>
<text x="160.50" y="456.00" font-size="6.2" text-anchor="middle" font-weight="bold" fill="#000" textLength="25.30" lengthAdjust="spacingAndGlyphs" stroke="#000" stroke-width="0.28" >Days P.I.</text>
<text x="78.50" y="428.80" font-size="5.8" text-anchor="start" font-weight="bold" fill="#000" textLength="56.60" lengthAdjust="spacingAndGlyphs" transform="rotate(-90 78.50 428.80)" stroke="#000" stroke-width="0.28" >RT Activity (cpm/ul)</text>
<path d="M122.16 432.62 L141.12 431.29 L160.08 434.33 L179.04 432.24 L198.00 434.52 L216.96 432.43" fill="none" stroke="#000" stroke-width="0.95"/>
<circle cx="122.16" cy="432.62" r="1.95" fill="#fff" stroke="#000" stroke-width="0.95"/>
<circle cx="141.12" cy="431.29" r="1.95" fill="#fff" stroke="#000" stroke-width="0.95"/>
<circle cx="160.08" cy="434.33" r="1.95" fill="#fff" stroke="#000" stroke-width="0.95"/>
<circle cx="179.04" cy="432.24" r="1.95" fill="#fff" stroke="#000" stroke-width="0.95"/>
<circle cx="198.00" cy="434.52" r="1.95" fill="#fff" stroke="#000" stroke-width="0.95"/>
<circle cx="216.96" cy="432.43" r="1.95" fill="#fff" stroke="#000" stroke-width="0.95"/>
<path d="M122.16 434.52 L141.12 434.90 L160.08 435.09 L179.04 428.44 L198.00 404.88 L216.96 383.22" fill="none" stroke="#000" stroke-width="0.95"/>
<line x1="179.04" y1="423.84" x2="179.04" y2="431.94" stroke="#000" stroke-width="0.9" />
<line x1="177.14" y1="423.84" x2="180.94" y2="423.84" stroke="#000" stroke-width="0.9" />
<line x1="177.14" y1="431.94" x2="180.94" y2="431.94" stroke="#000" stroke-width="0.9" />
<line x1="198.00" y1="392.48" x2="198.00" y2="417.68" stroke="#000" stroke-width="0.9" />
<line x1="196.10" y1="392.48" x2="199.90" y2="392.48" stroke="#000" stroke-width="0.9" />
<line x1="196.10" y1="417.68" x2="199.90" y2="417.68" stroke="#000" stroke-width="0.9" />
<line x1="216.96" y1="368.62" x2="216.96" y2="397.82" stroke="#000" stroke-width="0.9" />
<line x1="215.06" y1="368.62" x2="218.86" y2="368.62" stroke="#000" stroke-width="0.9" />
<line x1="215.06" y1="397.82" x2="218.86" y2="397.82" stroke="#000" stroke-width="0.9" />
<rect x="120.21" y="432.57" width="3.90" height="3.90" fill="#fff" stroke="#000" stroke-width="1.0"/>
<rect x="139.17" y="432.95" width="3.90" height="3.90" fill="#fff" stroke="#000" stroke-width="1.0"/>
<rect x="158.13" y="433.14" width="3.90" height="3.90" fill="#fff" stroke="#000" stroke-width="1.0"/>
<rect x="177.09" y="426.49" width="3.90" height="3.90" fill="#fff" stroke="#000" stroke-width="1.0"/>
<rect x="196.05" y="402.93" width="3.90" height="3.90" fill="#fff" stroke="#000" stroke-width="1.0"/>
<rect x="215.01" y="381.27" width="3.90" height="3.90" fill="#fff" stroke="#000" stroke-width="1.0"/>
<path d="M122.16 432.24 L141.12 434.33 L160.08 434.90 L179.04 433.00 L198.00 434.71 L216.96 434.90" fill="none" stroke="#000" stroke-width="0.95"/>
<path d="M122.16 430.09 L124.31 433.84 L120.01 433.84 Z" fill="#000"/>
<path d="M141.12 432.18 L143.27 435.93 L138.97 435.93 Z" fill="#000"/>
<path d="M160.08 432.75 L162.23 436.50 L157.93 436.50 Z" fill="#000"/>
<path d="M179.04 430.85 L181.19 434.60 L176.89 434.60 Z" fill="#000"/>
<path d="M198.00 432.56 L200.15 436.31 L195.85 436.31 Z" fill="#000"/>
<path d="M216.96 432.75 L219.11 436.50 L214.81 436.50 Z" fill="#000"/>
<path d="M122.16 433.00 L141.12 434.90 L160.08 434.52 L179.04 433.38 L198.00 434.14 L216.96 435.09" fill="none" stroke="#000" stroke-width="0.95"/>
<path d="M122.16 435.15 L124.31 431.40 L120.01 431.40 Z" fill="#000"/>
<path d="M141.12 437.05 L143.27 433.30 L138.97 433.30 Z" fill="#000"/>
<path d="M160.08 436.67 L162.23 432.92 L157.93 432.92 Z" fill="#000"/>
<path d="M179.04 435.53 L181.19 431.78 L176.89 431.78 Z" fill="#000"/>
<path d="M198.00 436.29 L200.15 432.54 L195.85 432.54 Z" fill="#000"/>
<path d="M216.96 437.24 L219.11 433.49 L214.81 433.49 Z" fill="#000"/>
<line x1="316.80" y1="362.40" x2="316.80" y2="439.30" stroke="#000" stroke-width="1.3" />
<line x1="316.20" y1="438.70" x2="431.40" y2="438.70" stroke="#000" stroke-width="1.3" />
<line x1="313.90" y1="363.00" x2="316.80" y2="363.00" stroke="#000" stroke-width="1.1" />
<text x="313.30" y="365.00" font-size="5.4" text-anchor="end" font-weight="bold" fill="#000" stroke="#000" stroke-width="0.28" >25,000</text>
<line x1="313.90" y1="378.10" x2="316.80" y2="378.10" stroke="#000" stroke-width="1.1" />
<text x="313.30" y="380.10" font-size="5.4" text-anchor="end" font-weight="bold" fill="#000" stroke="#000" stroke-width="0.28" >20,000</text>
<line x1="313.90" y1="393.40" x2="316.80" y2="393.40" stroke="#000" stroke-width="1.1" />
<text x="313.30" y="395.40" font-size="5.4" text-anchor="end" font-weight="bold" fill="#000" stroke="#000" stroke-width="0.28" >15,000</text>
<line x1="313.90" y1="408.50" x2="316.80" y2="408.50" stroke="#000" stroke-width="1.1" />
<text x="313.30" y="410.50" font-size="5.4" text-anchor="end" font-weight="bold" fill="#000" stroke="#000" stroke-width="0.28" >10,000</text>
<line x1="313.90" y1="423.60" x2="316.80" y2="423.60" stroke="#000" stroke-width="1.1" />
<text x="313.30" y="425.60" font-size="5.4" text-anchor="end" font-weight="bold" fill="#000" stroke="#000" stroke-width="0.28" >5,000</text>
<line x1="313.90" y1="438.70" x2="316.80" y2="438.70" stroke="#000" stroke-width="1.1" />
<text x="313.30" y="440.70" font-size="5.4" text-anchor="end" font-weight="bold" fill="#000" stroke="#000" stroke-width="0.28" >0</text>
<line x1="316.80" y1="438.70" x2="316.80" y2="441.50" stroke="#000" stroke-width="1.1" />
<text x="316.80" y="447.00" font-size="5.4" text-anchor="middle" font-weight="bold" fill="#000" stroke="#000" stroke-width="0.28" >0</text>
<line x1="335.76" y1="438.70" x2="335.76" y2="441.50" stroke="#000" stroke-width="1.1" />
<text x="335.76" y="447.00" font-size="5.4" text-anchor="middle" font-weight="bold" fill="#000" stroke="#000" stroke-width="0.28" >3</text>
<line x1="354.72" y1="438.70" x2="354.72" y2="441.50" stroke="#000" stroke-width="1.1" />
<text x="354.72" y="447.00" font-size="5.4" text-anchor="middle" font-weight="bold" fill="#000" stroke="#000" stroke-width="0.28" >6</text>
<line x1="373.68" y1="438.70" x2="373.68" y2="441.50" stroke="#000" stroke-width="1.1" />
<text x="373.68" y="447.00" font-size="5.4" text-anchor="middle" font-weight="bold" fill="#000" stroke="#000" stroke-width="0.28" >9</text>
<line x1="392.64" y1="438.70" x2="392.64" y2="441.50" stroke="#000" stroke-width="1.1" />
<text x="392.64" y="447.00" font-size="5.4" text-anchor="middle" font-weight="bold" fill="#000" stroke="#000" stroke-width="0.28" >12</text>
<line x1="411.60" y1="438.70" x2="411.60" y2="441.50" stroke="#000" stroke-width="1.1" />
<text x="411.60" y="447.00" font-size="5.4" text-anchor="middle" font-weight="bold" fill="#000" stroke="#000" stroke-width="0.28" >15</text>
<line x1="430.56" y1="438.70" x2="430.56" y2="441.50" stroke="#000" stroke-width="1.1" />
<text x="430.56" y="447.00" font-size="5.4" text-anchor="middle" font-weight="bold" fill="#000" stroke="#000" stroke-width="0.28" >18</text>
<text x="370.00" y="354.80" font-size="7.5" text-anchor="middle" font-weight="bold" fill="#000" textLength="28.20" lengthAdjust="spacingAndGlyphs" stroke="#000" stroke-width="0.28" >Post-GT</text>
<text x="373.60" y="456.00" font-size="6.2" text-anchor="middle" font-weight="bold" fill="#000" textLength="25.50" lengthAdjust="spacingAndGlyphs" stroke="#000" stroke-width="0.28" >Days P.I.</text>
<text x="288.40" y="428.80" font-size="5.8" text-anchor="start" font-weight="bold" fill="#000" textLength="56.60" lengthAdjust="spacingAndGlyphs" transform="rotate(-90 288.40 428.80)" stroke="#000" stroke-width="0.28" >RT Activity (cpm/ul)</text>
<path d="M335.76 438.70 L354.72 438.40 L373.68 435.37 L392.64 432.95 L411.60 432.80 L430.56 431.89" fill="none" stroke="#000" stroke-width="0.95"/>
<line x1="373.68" y1="433.47" x2="373.68" y2="437.27" stroke="#000" stroke-width="0.9" />
<line x1="371.78" y1="433.47" x2="375.58" y2="433.47" stroke="#000" stroke-width="0.9" />
<line x1="371.78" y1="437.27" x2="375.58" y2="437.27" stroke="#000" stroke-width="0.9" />
<line x1="392.64" y1="428.35" x2="392.64" y2="435.95" stroke="#000" stroke-width="0.9" />
<line x1="390.74" y1="428.35" x2="394.54" y2="428.35" stroke="#000" stroke-width="0.9" />
<line x1="390.74" y1="435.95" x2="394.54" y2="435.95" stroke="#000" stroke-width="0.9" />
<line x1="411.60" y1="429.20" x2="411.60" y2="435.80" stroke="#000" stroke-width="0.9" />
<line x1="409.70" y1="429.20" x2="413.50" y2="429.20" stroke="#000" stroke-width="0.9" />
<line x1="409.70" y1="435.80" x2="413.50" y2="435.80" stroke="#000" stroke-width="0.9" />
<line x1="430.56" y1="426.69" x2="430.56" y2="435.09" stroke="#000" stroke-width="0.9" />
<line x1="428.66" y1="426.69" x2="432.46" y2="426.69" stroke="#000" stroke-width="0.9" />
<line x1="428.66" y1="435.09" x2="432.46" y2="435.09" stroke="#000" stroke-width="0.9" />
<circle cx="335.76" cy="438.70" r="1.95" fill="#fff" stroke="#000" stroke-width="0.95"/>
<circle cx="354.72" cy="438.40" r="1.95" fill="#fff" stroke="#000" stroke-width="0.95"/>
<circle cx="373.68" cy="435.37" r="1.95" fill="#fff" stroke="#000" stroke-width="0.95"/>
<circle cx="392.64" cy="432.95" r="1.95" fill="#fff" stroke="#000" stroke-width="0.95"/>
<circle cx="411.60" cy="432.80" r="1.95" fill="#fff" stroke="#000" stroke-width="0.95"/>
<circle cx="430.56" cy="431.89" r="1.95" fill="#fff" stroke="#000" stroke-width="0.95"/>
<path d="M335.76 438.70 L354.72 423.41 L373.68 385.10 L392.64 379.65 L411.60 392.37 L430.56 417.20" fill="none" stroke="#000" stroke-width="0.95"/>
<line x1="354.72" y1="418.41" x2="354.72" y2="428.41" stroke="#000" stroke-width="0.9" />
<line x1="352.82" y1="418.41" x2="356.62" y2="418.41" stroke="#000" stroke-width="0.9" />
<line x1="352.82" y1="428.41" x2="356.62" y2="428.41" stroke="#000" stroke-width="0.9" />
<line x1="373.68" y1="382.70" x2="373.68" y2="387.50" stroke="#000" stroke-width="0.9" />
<line x1="371.78" y1="382.70" x2="375.58" y2="382.70" stroke="#000" stroke-width="0.9" />
<line x1="371.78" y1="387.50" x2="375.58" y2="387.50" stroke="#000" stroke-width="0.9" />
<line x1="392.64" y1="376.05" x2="392.64" y2="383.25" stroke="#000" stroke-width="0.9" />
<line x1="390.74" y1="376.05" x2="394.54" y2="376.05" stroke="#000" stroke-width="0.9" />
<line x1="390.74" y1="383.25" x2="394.54" y2="383.25" stroke="#000" stroke-width="0.9" />
<line x1="411.60" y1="388.57" x2="411.60" y2="396.17" stroke="#000" stroke-width="0.9" />
<line x1="409.70" y1="388.57" x2="413.50" y2="388.57" stroke="#000" stroke-width="0.9" />
<line x1="409.70" y1="396.17" x2="413.50" y2="396.17" stroke="#000" stroke-width="0.9" />
<line x1="430.56" y1="414.30" x2="430.56" y2="420.10" stroke="#000" stroke-width="0.9" />
<line x1="428.66" y1="414.30" x2="432.46" y2="414.30" stroke="#000" stroke-width="0.9" />
<line x1="428.66" y1="420.10" x2="432.46" y2="420.10" stroke="#000" stroke-width="0.9" />
<rect x="333.81" y="436.75" width="3.90" height="3.90" fill="#fff" stroke="#000" stroke-width="1.0"/>
<rect x="352.77" y="421.46" width="3.90" height="3.90" fill="#fff" stroke="#000" stroke-width="1.0"/>
<rect x="371.73" y="383.15" width="3.90" height="3.90" fill="#fff" stroke="#000" stroke-width="1.0"/>
<rect x="390.69" y="377.70" width="3.90" height="3.90" fill="#fff" stroke="#000" stroke-width="1.0"/>
<rect x="409.65" y="390.42" width="3.90" height="3.90" fill="#fff" stroke="#000" stroke-width="1.0"/>
<rect x="428.61" y="415.25" width="3.90" height="3.90" fill="#fff" stroke="#000" stroke-width="1.0"/>
<path d="M335.76 438.70 L354.72 438.70 L373.68 438.70 L392.64 438.70 L411.60 438.70 L430.56 438.70" fill="none" stroke="#000" stroke-width="0.95"/>
<path d="M335.76 436.55 L337.91 440.30 L333.61 440.30 Z" fill="#000"/>
<path d="M354.72 436.55 L356.87 440.30 L352.57 440.30 Z" fill="#000"/>
<path d="M373.68 436.55 L375.83 440.30 L371.53 440.30 Z" fill="#000"/>
<path d="M392.64 436.55 L394.79 440.30 L390.49 440.30 Z" fill="#000"/>
<path d="M411.60 436.55 L413.75 440.30 L409.45 440.30 Z" fill="#000"/>
<path d="M430.56 436.55 L432.71 440.30 L428.41 440.30 Z" fill="#000"/>
<path d="M335.76 438.70 L354.72 438.70 L373.68 438.70 L392.64 438.70 L411.60 438.70 L430.56 438.70" fill="none" stroke="#000" stroke-width="0.95"/>
<path d="M335.76 440.85 L337.91 437.10 L333.61 437.10 Z" fill="#000"/>
<path d="M354.72 440.85 L356.87 437.10 L352.57 437.10 Z" fill="#000"/>
<path d="M373.68 440.85 L375.83 437.10 L371.53 437.10 Z" fill="#000"/>
<path d="M392.64 440.85 L394.79 437.10 L390.49 437.10 Z" fill="#000"/>
<path d="M411.60 440.85 L413.75 437.10 L409.45 437.10 Z" fill="#000"/>
<path d="M430.56 440.85 L432.71 437.10 L428.41 437.10 Z" fill="#000"/>
<line x1="437.70" y1="377.60" x2="447.00" y2="377.60" stroke="#000" stroke-width="1.0" />
<circle cx="442.40" cy="377.60" r="1.66" fill="#fff" stroke="#000" stroke-width="0.95"/>
<line x1="437.70" y1="386.40" x2="447.00" y2="386.40" stroke="#000" stroke-width="1.0" />
<rect x="440.74" y="384.74" width="3.31" height="3.31" fill="#fff" stroke="#000" stroke-width="1.0"/>
<line x1="437.70" y1="395.60" x2="447.00" y2="395.60" stroke="#000" stroke-width="1.0" />
<path d="M442.40 393.77 L444.23 396.96 L440.57 396.96 Z" fill="#000"/>
<line x1="437.70" y1="404.40" x2="447.00" y2="404.40" stroke="#000" stroke-width="1.0" />
<path d="M442.40 406.23 L444.23 403.04 L440.57 403.04 Z" fill="#000"/>
<text x="450.80" y="379.60" font-size="5.6" text-anchor="start" font-weight="bold" fill="#000" textLength="8.20" lengthAdjust="spacingAndGlyphs" stroke="#000" stroke-width="0.28" >0.1</text>
<text x="456.80" y="388.50" font-size="5.6" text-anchor="end" font-weight="bold" fill="#000" stroke="#000" stroke-width="0.28" >1</text>
<text x="450.80" y="397.60" font-size="5.6" text-anchor="start" font-weight="bold" fill="#000" textLength="8.20" lengthAdjust="spacingAndGlyphs" stroke="#000" stroke-width="0.28" >0.1</text>
<text x="456.80" y="406.40" font-size="5.6" text-anchor="end" font-weight="bold" fill="#000" stroke="#000" stroke-width="0.28" >1</text>
<line x1="463.50" y1="375.00" x2="463.50" y2="388.60" stroke="#000" stroke-width="1.1" />
<line x1="463.50" y1="392.80" x2="463.50" y2="406.40" stroke="#000" stroke-width="1.1" />
<text x="467.80" y="384.50" font-size="5.4" text-anchor="start" font-weight="bold" fill="#000" textLength="23.00" lengthAdjust="spacingAndGlyphs" stroke="#000" stroke-width="0.28" >R5 (BaL)</text>
<text x="467.80" y="399.40" font-size="5.4" text-anchor="start" font-weight="bold" fill="#000" textLength="30.70" lengthAdjust="spacingAndGlyphs" stroke="#000" stroke-width="0.28" >X4 (LAI-IIIB)</text>
<line x1="102.10" y1="498.10" x2="102.10" y2="573.00" stroke="#000" stroke-width="1.3" />
<line x1="101.50" y1="572.30" x2="214.70" y2="572.30" stroke="#000" stroke-width="1.3" />
<line x1="99.20" y1="498.70" x2="102.10" y2="498.70" stroke="#000" stroke-width="1.1" />
<text x="99.20" y="500.70" font-size="5.4" text-anchor="end" font-weight="bold" fill="#000" textLength="12.16" lengthAdjust="spacingAndGlyphs" stroke="#000" stroke-width="0.28" >6,000</text>
<line x1="99.20" y1="523.20" x2="102.10" y2="523.20" stroke="#000" stroke-width="1.1" />
<text x="99.20" y="525.20" font-size="5.4" text-anchor="end" font-weight="bold" fill="#000" textLength="12.16" lengthAdjust="spacingAndGlyphs" stroke="#000" stroke-width="0.28" >4,000</text>
<line x1="99.20" y1="547.80" x2="102.10" y2="547.80" stroke="#000" stroke-width="1.1" />
<text x="99.20" y="549.80" font-size="5.4" text-anchor="end" font-weight="bold" fill="#000" textLength="12.16" lengthAdjust="spacingAndGlyphs" stroke="#000" stroke-width="0.28" >2,000</text>
<line x1="99.20" y1="572.30" x2="102.10" y2="572.30" stroke="#000" stroke-width="1.1" />
<text x="99.20" y="574.30" font-size="5.4" text-anchor="end" font-weight="bold" fill="#000" textLength="2.70" lengthAdjust="spacingAndGlyphs" stroke="#000" stroke-width="0.28" >0</text>
<line x1="130.80" y1="509.20" x2="130.80" y2="521.00" stroke="#000" stroke-width="1.15" />
<line x1="121.30" y1="509.20" x2="140.30" y2="509.20" stroke="#000" stroke-width="1.15" />
<rect x="112.40" y="520.90" width="36.70" height="51.40" fill="#fff" stroke="#000" stroke-width="1.25"/>
<line x1="186.70" y1="541.20" x2="186.70" y2="548.50" stroke="#000" stroke-width="1.15" />
<line x1="177.10" y1="541.20" x2="196.30" y2="541.20" stroke="#000" stroke-width="1.15" />
<rect x="168.40" y="548.30" width="36.60" height="24.00" fill="#000" stroke="#000" stroke-width="1.25"/>
<path d="M130.80 497.90 V493.90 H186.30 V497.90" fill="none" stroke="#000" stroke-width="1.1"/>
<text x="159.70" y="490.30" font-size="5.4" text-anchor="middle" font-weight="bold" fill="#000" textLength="22.10" lengthAdjust="spacingAndGlyphs" stroke="#000" stroke-width="0.28" >p=0.045</text>
<line x1="130.80" y1="572.30" x2="130.80" y2="575.20" stroke="#000" stroke-width="1.1" />
<line x1="186.70" y1="572.30" x2="186.70" y2="575.20" stroke="#000" stroke-width="1.1" />
<text x="131.00" y="581.10" font-size="5.7" text-anchor="middle" font-weight="bold" fill="#000" textLength="8.20" lengthAdjust="spacingAndGlyphs" stroke="#000" stroke-width="0.28" >R5</text>
<text x="186.90" y="581.10" font-size="5.7" text-anchor="middle" font-weight="bold" fill="#000" textLength="7.40" lengthAdjust="spacingAndGlyphs" stroke="#000" stroke-width="0.28" >X4</text>
<text x="78.90" y="563.10" font-size="5.8" text-anchor="start" font-weight="bold" fill="#000" textLength="54.80" lengthAdjust="spacingAndGlyphs" transform="rotate(-90 78.90 563.10)" stroke="#000" stroke-width="0.28" >RT Activity (cpm/ul)</text>
<line x1="316.70" y1="498.60" x2="316.70" y2="573.60" stroke="#000" stroke-width="1.3" />
<line x1="316.10" y1="572.90" x2="428.20" y2="572.90" stroke="#000" stroke-width="1.3" />
<line x1="313.80" y1="499.20" x2="316.70" y2="499.20" stroke="#000" stroke-width="1.1" />
<text x="313.80" y="501.20" font-size="5.4" text-anchor="end" font-weight="bold" fill="#000" textLength="17.17" lengthAdjust="spacingAndGlyphs" stroke="#000" stroke-width="0.28" >15,000</text>
<line x1="313.80" y1="523.80" x2="316.70" y2="523.80" stroke="#000" stroke-width="1.1" />
<text x="313.80" y="525.80" font-size="5.4" text-anchor="end" font-weight="bold" fill="#000" textLength="17.17" lengthAdjust="spacingAndGlyphs" stroke="#000" stroke-width="0.28" >10,000</text>
<line x1="313.80" y1="548.30" x2="316.70" y2="548.30" stroke="#000" stroke-width="1.1" />
<text x="313.80" y="550.30" font-size="5.4" text-anchor="end" font-weight="bold" fill="#000" textLength="14.05" lengthAdjust="spacingAndGlyphs" stroke="#000" stroke-width="0.28" >5,000</text>
<line x1="313.80" y1="572.90" x2="316.70" y2="572.90" stroke="#000" stroke-width="1.1" />
<text x="313.80" y="574.90" font-size="5.4" text-anchor="end" font-weight="bold" fill="#000" textLength="3.12" lengthAdjust="spacingAndGlyphs" stroke="#000" stroke-width="0.28" >0</text>
<line x1="344.80" y1="506.10" x2="344.80" y2="515.00" stroke="#000" stroke-width="1.15" />
<line x1="335.30" y1="506.10" x2="354.30" y2="506.10" stroke="#000" stroke-width="1.15" />
<rect x="326.00" y="515.00" width="37.20" height="57.90" fill="#fff" stroke="#000" stroke-width="1.25"/>
<line x1="400.60" y1="567.20" x2="400.60" y2="569.00" stroke="#000" stroke-width="1.15" />
<line x1="391.20" y1="567.20" x2="410.00" y2="567.20" stroke="#000" stroke-width="1.15" />
<rect x="382.10" y="568.90" width="36.90" height="4.00" fill="#000" stroke="#000" stroke-width="1.25"/>
<path d="M344.70 498.40 V494.10 H400.40 V498.40" fill="none" stroke="#000" stroke-width="1.1"/>
<text x="373.40" y="490.70" font-size="5.4" text-anchor="middle" font-weight="bold" fill="#000" textLength="28.70" lengthAdjust="spacingAndGlyphs" stroke="#000" stroke-width="0.28" >p=0&lt;0.001</text>
<line x1="344.70" y1="572.90" x2="344.70" y2="575.80" stroke="#000" stroke-width="1.1" />
<line x1="400.50" y1="572.90" x2="400.50" y2="575.80" stroke="#000" stroke-width="1.1" />
<text x="345.00" y="581.40" font-size="5.7" text-anchor="middle" font-weight="bold" fill="#000" textLength="8.20" lengthAdjust="spacingAndGlyphs" stroke="#000" stroke-width="0.28" >R5</text>
<text x="400.60" y="581.40" font-size="5.7" text-anchor="middle" font-weight="bold" fill="#000" textLength="7.40" lengthAdjust="spacingAndGlyphs" stroke="#000" stroke-width="0.28" >X4</text>
<text x="289.00" y="563.10" font-size="5.8" text-anchor="start" font-weight="bold" fill="#000" textLength="54.80" lengthAdjust="spacingAndGlyphs" transform="rotate(-90 289.00 563.10)" stroke="#000" stroke-width="0.28" >RT Activity (cpm/ul)</text>
</g>
</svg>
</body></html>
